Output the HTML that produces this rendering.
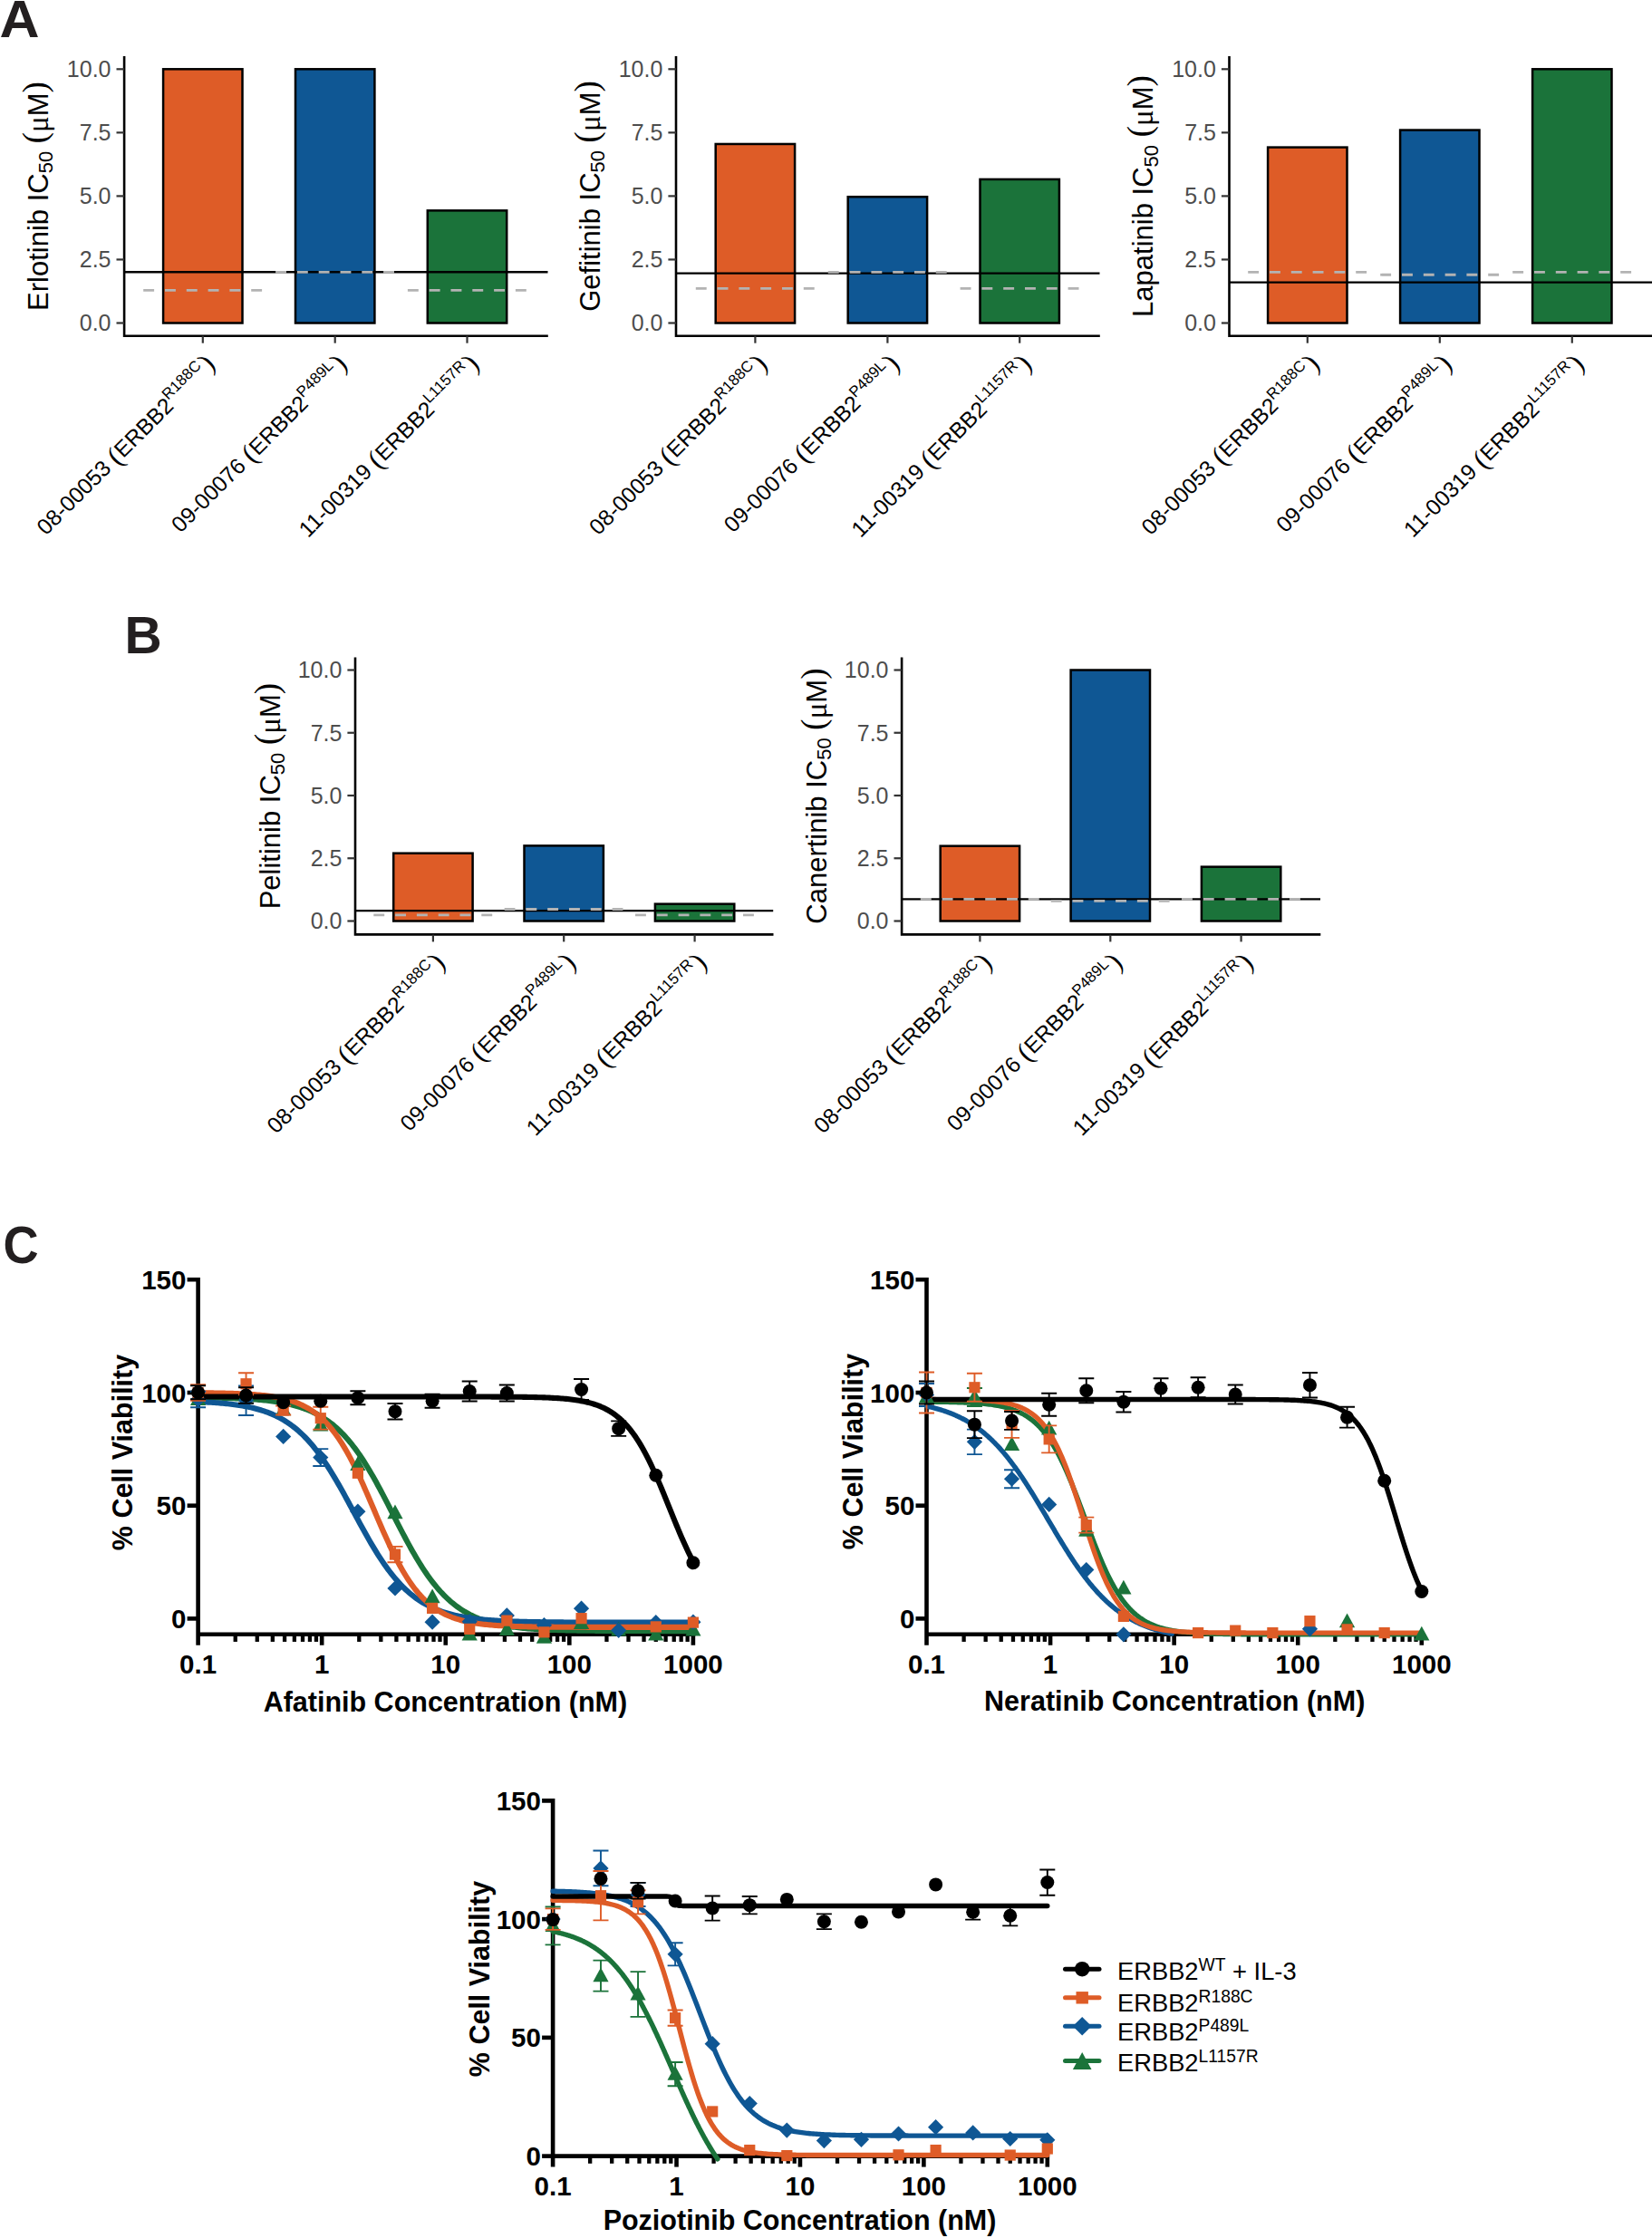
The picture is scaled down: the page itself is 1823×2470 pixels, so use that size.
<!DOCTYPE html>
<html lang="en"><head><meta charset="utf-8"><title>ERBB2 mutant inhibitor sensitivity</title>
<style>html,body{margin:0;padding:0;background:#fff}svg{display:block}text{font-family:"Liberation Sans", Arial, Helvetica, sans-serif}</style>
</head><body>
<svg width="1823" height="2470" viewBox="0 0 1823 2470">
<rect width="1823" height="2470" fill="#fff"/>
<text transform="translate(-0.5 41) scale(1.07 1)" font-size="57" font-weight="bold" fill="#231f20">A</text>
<text transform="translate(137.5 721.3) scale(1.0 1)" font-size="57" font-weight="bold" fill="#231f20">B</text>
<text transform="translate(3.5 1394) scale(0.95 1)" font-size="57" font-weight="bold" fill="#231f20">C</text>
<rect x="180.1" y="76.3" width="87.4" height="280.2" fill="#de5c27" stroke="#000" stroke-width="2.5"/>
<rect x="326" y="76.3" width="87.4" height="280.2" fill="#0f5794" stroke="#000" stroke-width="2.5"/>
<rect x="471.8" y="232.37" width="87.4" height="124.13" fill="#1b733a" stroke="#000" stroke-width="2.5"/>
<line x1="137.1" y1="300.18" x2="604.5" y2="300.18" stroke="#000" stroke-width="2.4"/>
<line x1="158.2" y1="320.35" x2="289.4" y2="320.35" stroke="#b3b3b3" stroke-width="2.8" stroke-dasharray="11.9 11.9"/>
<line x1="304.1" y1="300.46" x2="435.3" y2="300.46" stroke="#b3b3b3" stroke-width="2.8" stroke-dasharray="11.9 11.9"/>
<line x1="449.9" y1="320.35" x2="581.1" y2="320.35" stroke="#b3b3b3" stroke-width="2.8" stroke-dasharray="11.9 11.9"/>
<path d="M137.1 63.3 V370.7 H603.5" fill="none" stroke="#000" stroke-width="2.6" stroke-linecap="square"/>
<line x1="128.5" y1="356.5" x2="137.1" y2="356.5" stroke="#333" stroke-width="2.2"/>
<text x="122.5" y="365.4" font-size="25" fill="#4d4d4d" text-anchor="end">0.0</text>
<line x1="128.5" y1="286.45" x2="137.1" y2="286.45" stroke="#333" stroke-width="2.2"/>
<text x="122.5" y="295.35" font-size="25" fill="#4d4d4d" text-anchor="end">2.5</text>
<line x1="128.5" y1="216.4" x2="137.1" y2="216.4" stroke="#333" stroke-width="2.2"/>
<text x="122.5" y="225.3" font-size="25" fill="#4d4d4d" text-anchor="end">5.0</text>
<line x1="128.5" y1="146.35" x2="137.1" y2="146.35" stroke="#333" stroke-width="2.2"/>
<text x="122.5" y="155.25" font-size="25" fill="#4d4d4d" text-anchor="end">7.5</text>
<line x1="128.5" y1="76.3" x2="137.1" y2="76.3" stroke="#333" stroke-width="2.2"/>
<text x="122.5" y="85.2" font-size="25" fill="#4d4d4d" text-anchor="end">10.0</text>
<line x1="223.8" y1="370.7" x2="223.8" y2="378.7" stroke="#333" stroke-width="2.2"/>
<text transform="translate(238.7 403.7) rotate(-45)" font-size="24.5" fill="#000" text-anchor="end">08-00053 <tspan font-family='"Liberation Serif", "DejaVu Serif", serif' font-size="31" dy="2">(</tspan><tspan dy="-2">ERBB2</tspan><tspan font-size="17" dy="-10.5">R188C</tspan><tspan font-family='"Liberation Serif", "DejaVu Serif", serif' font-size="31" dy="10.5" dx="1.5">)</tspan></text>
<line x1="369.7" y1="370.7" x2="369.7" y2="378.7" stroke="#333" stroke-width="2.2"/>
<text transform="translate(384.6 403.7) rotate(-45)" font-size="24.5" fill="#000" text-anchor="end">09-00076 <tspan font-family='"Liberation Serif", "DejaVu Serif", serif' font-size="31" dy="2">(</tspan><tspan dy="-2">ERBB2</tspan><tspan font-size="17" dy="-10.5">P489L</tspan><tspan font-family='"Liberation Serif", "DejaVu Serif", serif' font-size="31" dy="10.5" dx="1.5">)</tspan></text>
<line x1="515.5" y1="370.7" x2="515.5" y2="378.7" stroke="#333" stroke-width="2.2"/>
<text transform="translate(530.4 403.7) rotate(-45)" font-size="24.5" fill="#000" text-anchor="end">11-00319 <tspan font-family='"Liberation Serif", "DejaVu Serif", serif' font-size="31" dy="2">(</tspan><tspan dy="-2">ERBB2</tspan><tspan font-size="17" dy="-10.5">L1157R</tspan><tspan font-family='"Liberation Serif", "DejaVu Serif", serif' font-size="31" dy="10.5" dx="1.5">)</tspan></text>
<text transform="translate(52.5 216.5) rotate(-90)" font-size="31" fill="#000" text-anchor="middle">Erlotinib IC<tspan font-size="22" dy="5.5">50</tspan><tspan dy="-5.5"> </tspan><tspan font-family='"Liberation Serif", "DejaVu Serif", serif' font-size="37" dy="-2">(</tspan><tspan font-family='"Liberation Serif", "DejaVu Serif", serif' font-size="33" dy="2">μ</tspan>M<tspan font-family='"Liberation Serif", "DejaVu Serif", serif' font-size="37" dy="-2">)</tspan></text>
<rect x="789.7" y="158.96" width="87.4" height="197.54" fill="#de5c27" stroke="#000" stroke-width="2.5"/>
<rect x="935.7" y="217.24" width="87.4" height="139.26" fill="#0f5794" stroke="#000" stroke-width="2.5"/>
<rect x="1081.5" y="197.91" width="87.4" height="158.59" fill="#1b733a" stroke="#000" stroke-width="2.5"/>
<line x1="746" y1="301.58" x2="1213.5" y2="301.58" stroke="#000" stroke-width="2.4"/>
<line x1="767.8" y1="318.39" x2="899" y2="318.39" stroke="#b3b3b3" stroke-width="2.8" stroke-dasharray="11.9 11.9"/>
<line x1="913.8" y1="300.46" x2="1045" y2="300.46" stroke="#b3b3b3" stroke-width="2.8" stroke-dasharray="11.9 11.9"/>
<line x1="1059.6" y1="318.39" x2="1190.8" y2="318.39" stroke="#b3b3b3" stroke-width="2.8" stroke-dasharray="11.9 11.9"/>
<path d="M746 63.3 V370.7 H1212.5" fill="none" stroke="#000" stroke-width="2.6" stroke-linecap="square"/>
<line x1="737.4" y1="356.5" x2="746" y2="356.5" stroke="#333" stroke-width="2.2"/>
<text x="731.4" y="365.4" font-size="25" fill="#4d4d4d" text-anchor="end">0.0</text>
<line x1="737.4" y1="286.45" x2="746" y2="286.45" stroke="#333" stroke-width="2.2"/>
<text x="731.4" y="295.35" font-size="25" fill="#4d4d4d" text-anchor="end">2.5</text>
<line x1="737.4" y1="216.4" x2="746" y2="216.4" stroke="#333" stroke-width="2.2"/>
<text x="731.4" y="225.3" font-size="25" fill="#4d4d4d" text-anchor="end">5.0</text>
<line x1="737.4" y1="146.35" x2="746" y2="146.35" stroke="#333" stroke-width="2.2"/>
<text x="731.4" y="155.25" font-size="25" fill="#4d4d4d" text-anchor="end">7.5</text>
<line x1="737.4" y1="76.3" x2="746" y2="76.3" stroke="#333" stroke-width="2.2"/>
<text x="731.4" y="85.2" font-size="25" fill="#4d4d4d" text-anchor="end">10.0</text>
<line x1="833.4" y1="370.7" x2="833.4" y2="378.7" stroke="#333" stroke-width="2.2"/>
<text transform="translate(848.3 403.7) rotate(-45)" font-size="24.5" fill="#000" text-anchor="end">08-00053 <tspan font-family='"Liberation Serif", "DejaVu Serif", serif' font-size="31" dy="2">(</tspan><tspan dy="-2">ERBB2</tspan><tspan font-size="17" dy="-10.5">R188C</tspan><tspan font-family='"Liberation Serif", "DejaVu Serif", serif' font-size="31" dy="10.5" dx="1.5">)</tspan></text>
<line x1="979.4" y1="370.7" x2="979.4" y2="378.7" stroke="#333" stroke-width="2.2"/>
<text transform="translate(994.3 403.7) rotate(-45)" font-size="24.5" fill="#000" text-anchor="end">09-00076 <tspan font-family='"Liberation Serif", "DejaVu Serif", serif' font-size="31" dy="2">(</tspan><tspan dy="-2">ERBB2</tspan><tspan font-size="17" dy="-10.5">P489L</tspan><tspan font-family='"Liberation Serif", "DejaVu Serif", serif' font-size="31" dy="10.5" dx="1.5">)</tspan></text>
<line x1="1125.2" y1="370.7" x2="1125.2" y2="378.7" stroke="#333" stroke-width="2.2"/>
<text transform="translate(1140.1 403.7) rotate(-45)" font-size="24.5" fill="#000" text-anchor="end">11-00319 <tspan font-family='"Liberation Serif", "DejaVu Serif", serif' font-size="31" dy="2">(</tspan><tspan dy="-2">ERBB2</tspan><tspan font-size="17" dy="-10.5">L1157R</tspan><tspan font-family='"Liberation Serif", "DejaVu Serif", serif' font-size="31" dy="10.5" dx="1.5">)</tspan></text>
<text transform="translate(661.5 216.5) rotate(-90)" font-size="31" fill="#000" text-anchor="middle">Gefitinib IC<tspan font-size="22" dy="5.5">50</tspan><tspan dy="-5.5"> </tspan><tspan font-family='"Liberation Serif", "DejaVu Serif", serif' font-size="37" dy="-2">(</tspan><tspan font-family='"Liberation Serif", "DejaVu Serif", serif' font-size="33" dy="2">μ</tspan>M<tspan font-family='"Liberation Serif", "DejaVu Serif", serif' font-size="37" dy="-2">)</tspan></text>
<rect x="1399.1" y="162.6" width="87.4" height="193.9" fill="#de5c27" stroke="#000" stroke-width="2.5"/>
<rect x="1545.1" y="143.55" width="87.4" height="212.95" fill="#0f5794" stroke="#000" stroke-width="2.5"/>
<rect x="1691.1" y="76.3" width="87.4" height="280.2" fill="#1b733a" stroke="#000" stroke-width="2.5"/>
<line x1="1356.5" y1="311.67" x2="1824" y2="311.67" stroke="#000" stroke-width="2.4"/>
<line x1="1377.2" y1="300.46" x2="1508.4" y2="300.46" stroke="#b3b3b3" stroke-width="2.8" stroke-dasharray="11.9 11.9"/>
<line x1="1523.2" y1="303.26" x2="1654.4" y2="303.26" stroke="#b3b3b3" stroke-width="2.8" stroke-dasharray="11.9 11.9"/>
<line x1="1669.2" y1="300.46" x2="1800.4" y2="300.46" stroke="#b3b3b3" stroke-width="2.8" stroke-dasharray="11.9 11.9"/>
<path d="M1356.5 63.3 V370.7 H1823" fill="none" stroke="#000" stroke-width="2.6" stroke-linecap="square"/>
<line x1="1347.9" y1="356.5" x2="1356.5" y2="356.5" stroke="#333" stroke-width="2.2"/>
<text x="1341.9" y="365.4" font-size="25" fill="#4d4d4d" text-anchor="end">0.0</text>
<line x1="1347.9" y1="286.45" x2="1356.5" y2="286.45" stroke="#333" stroke-width="2.2"/>
<text x="1341.9" y="295.35" font-size="25" fill="#4d4d4d" text-anchor="end">2.5</text>
<line x1="1347.9" y1="216.4" x2="1356.5" y2="216.4" stroke="#333" stroke-width="2.2"/>
<text x="1341.9" y="225.3" font-size="25" fill="#4d4d4d" text-anchor="end">5.0</text>
<line x1="1347.9" y1="146.35" x2="1356.5" y2="146.35" stroke="#333" stroke-width="2.2"/>
<text x="1341.9" y="155.25" font-size="25" fill="#4d4d4d" text-anchor="end">7.5</text>
<line x1="1347.9" y1="76.3" x2="1356.5" y2="76.3" stroke="#333" stroke-width="2.2"/>
<text x="1341.9" y="85.2" font-size="25" fill="#4d4d4d" text-anchor="end">10.0</text>
<line x1="1442.8" y1="370.7" x2="1442.8" y2="378.7" stroke="#333" stroke-width="2.2"/>
<text transform="translate(1457.7 403.7) rotate(-45)" font-size="24.5" fill="#000" text-anchor="end">08-00053 <tspan font-family='"Liberation Serif", "DejaVu Serif", serif' font-size="31" dy="2">(</tspan><tspan dy="-2">ERBB2</tspan><tspan font-size="17" dy="-10.5">R188C</tspan><tspan font-family='"Liberation Serif", "DejaVu Serif", serif' font-size="31" dy="10.5" dx="1.5">)</tspan></text>
<line x1="1588.8" y1="370.7" x2="1588.8" y2="378.7" stroke="#333" stroke-width="2.2"/>
<text transform="translate(1603.7 403.7) rotate(-45)" font-size="24.5" fill="#000" text-anchor="end">09-00076 <tspan font-family='"Liberation Serif", "DejaVu Serif", serif' font-size="31" dy="2">(</tspan><tspan dy="-2">ERBB2</tspan><tspan font-size="17" dy="-10.5">P489L</tspan><tspan font-family='"Liberation Serif", "DejaVu Serif", serif' font-size="31" dy="10.5" dx="1.5">)</tspan></text>
<line x1="1734.8" y1="370.7" x2="1734.8" y2="378.7" stroke="#333" stroke-width="2.2"/>
<text transform="translate(1749.7 403.7) rotate(-45)" font-size="24.5" fill="#000" text-anchor="end">11-00319 <tspan font-family='"Liberation Serif", "DejaVu Serif", serif' font-size="31" dy="2">(</tspan><tspan dy="-2">ERBB2</tspan><tspan font-size="17" dy="-10.5">L1157R</tspan><tspan font-family='"Liberation Serif", "DejaVu Serif", serif' font-size="31" dy="10.5" dx="1.5">)</tspan></text>
<text transform="translate(1272 216.5) rotate(-90)" font-size="31" fill="#000" text-anchor="middle">Lapatinib IC<tspan font-size="22" dy="5.5">50</tspan><tspan dy="-5.5"> </tspan><tspan font-family='"Liberation Serif", "DejaVu Serif", serif' font-size="37" dy="-2">(</tspan><tspan font-family='"Liberation Serif", "DejaVu Serif", serif' font-size="33" dy="2">μ</tspan>M<tspan font-family='"Liberation Serif", "DejaVu Serif", serif' font-size="37" dy="-2">)</tspan></text>
<rect x="434.2" y="941.71" width="87.4" height="74.79" fill="#de5c27" stroke="#000" stroke-width="2.5"/>
<rect x="578.5" y="933.4" width="87.4" height="83.1" fill="#0f5794" stroke="#000" stroke-width="2.5"/>
<rect x="722.9" y="997.66" width="87.4" height="18.84" fill="#1b733a" stroke="#000" stroke-width="2.5"/>
<line x1="392" y1="1005.14" x2="853.2" y2="1005.14" stroke="#000" stroke-width="2.4"/>
<line x1="412.3" y1="1009.85" x2="543.5" y2="1009.85" stroke="#b3b3b3" stroke-width="2.8" stroke-dasharray="11.9 11.9"/>
<line x1="556.6" y1="1003.48" x2="687.8" y2="1003.48" stroke="#b3b3b3" stroke-width="2.8" stroke-dasharray="11.9 11.9"/>
<line x1="701" y1="1009.85" x2="832.2" y2="1009.85" stroke="#b3b3b3" stroke-width="2.8" stroke-dasharray="11.9 11.9"/>
<path d="M392 726.8 V1031.4 H852.2" fill="none" stroke="#000" stroke-width="2.6" stroke-linecap="square"/>
<line x1="383.4" y1="1016.5" x2="392" y2="1016.5" stroke="#333" stroke-width="2.2"/>
<text x="377.4" y="1025.4" font-size="25" fill="#4d4d4d" text-anchor="end">0.0</text>
<line x1="383.4" y1="947.25" x2="392" y2="947.25" stroke="#333" stroke-width="2.2"/>
<text x="377.4" y="956.15" font-size="25" fill="#4d4d4d" text-anchor="end">2.5</text>
<line x1="383.4" y1="878" x2="392" y2="878" stroke="#333" stroke-width="2.2"/>
<text x="377.4" y="886.9" font-size="25" fill="#4d4d4d" text-anchor="end">5.0</text>
<line x1="383.4" y1="808.75" x2="392" y2="808.75" stroke="#333" stroke-width="2.2"/>
<text x="377.4" y="817.65" font-size="25" fill="#4d4d4d" text-anchor="end">7.5</text>
<line x1="383.4" y1="739.5" x2="392" y2="739.5" stroke="#333" stroke-width="2.2"/>
<text x="377.4" y="748.4" font-size="25" fill="#4d4d4d" text-anchor="end">10.0</text>
<line x1="477.9" y1="1031.4" x2="477.9" y2="1039.4" stroke="#333" stroke-width="2.2"/>
<text transform="translate(492.8 1064.4) rotate(-45)" font-size="24.5" fill="#000" text-anchor="end">08-00053 <tspan font-family='"Liberation Serif", "DejaVu Serif", serif' font-size="31" dy="2">(</tspan><tspan dy="-2">ERBB2</tspan><tspan font-size="17" dy="-10.5">R188C</tspan><tspan font-family='"Liberation Serif", "DejaVu Serif", serif' font-size="31" dy="10.5" dx="1.5">)</tspan></text>
<line x1="622.2" y1="1031.4" x2="622.2" y2="1039.4" stroke="#333" stroke-width="2.2"/>
<text transform="translate(637.1 1064.4) rotate(-45)" font-size="24.5" fill="#000" text-anchor="end">09-00076 <tspan font-family='"Liberation Serif", "DejaVu Serif", serif' font-size="31" dy="2">(</tspan><tspan dy="-2">ERBB2</tspan><tspan font-size="17" dy="-10.5">P489L</tspan><tspan font-family='"Liberation Serif", "DejaVu Serif", serif' font-size="31" dy="10.5" dx="1.5">)</tspan></text>
<line x1="766.6" y1="1031.4" x2="766.6" y2="1039.4" stroke="#333" stroke-width="2.2"/>
<text transform="translate(781.5 1064.4) rotate(-45)" font-size="24.5" fill="#000" text-anchor="end">11-00319 <tspan font-family='"Liberation Serif", "DejaVu Serif", serif' font-size="31" dy="2">(</tspan><tspan dy="-2">ERBB2</tspan><tspan font-size="17" dy="-10.5">L1157R</tspan><tspan font-family='"Liberation Serif", "DejaVu Serif", serif' font-size="31" dy="10.5" dx="1.5">)</tspan></text>
<text transform="translate(308.5 878.6) rotate(-90)" font-size="31" fill="#000" text-anchor="middle">Pelitinib IC<tspan font-size="22" dy="5.5">50</tspan><tspan dy="-5.5"> </tspan><tspan font-family='"Liberation Serif", "DejaVu Serif", serif' font-size="37" dy="-2">(</tspan><tspan font-family='"Liberation Serif", "DejaVu Serif", serif' font-size="33" dy="2">μ</tspan>M<tspan font-family='"Liberation Serif", "DejaVu Serif", serif' font-size="37" dy="-2">)</tspan></text>
<rect x="1037.7" y="933.68" width="87.4" height="82.82" fill="#de5c27" stroke="#000" stroke-width="2.5"/>
<rect x="1181.6" y="739.5" width="87.4" height="277" fill="#0f5794" stroke="#000" stroke-width="2.5"/>
<rect x="1325.9" y="956.67" width="87.4" height="59.83" fill="#1b733a" stroke="#000" stroke-width="2.5"/>
<line x1="995.1" y1="992.4" x2="1457" y2="992.4" stroke="#000" stroke-width="2.4"/>
<line x1="1015.8" y1="992.4" x2="1147" y2="992.4" stroke="#b3b3b3" stroke-width="2.8" stroke-dasharray="11.9 11.9"/>
<line x1="1159.7" y1="994.34" x2="1290.9" y2="994.34" stroke="#b3b3b3" stroke-width="2.8" stroke-dasharray="11.9 11.9"/>
<line x1="1304" y1="992.4" x2="1435.2" y2="992.4" stroke="#b3b3b3" stroke-width="2.8" stroke-dasharray="11.9 11.9"/>
<path d="M995.1 726.8 V1031.4 H1456" fill="none" stroke="#000" stroke-width="2.6" stroke-linecap="square"/>
<line x1="986.5" y1="1016.5" x2="995.1" y2="1016.5" stroke="#333" stroke-width="2.2"/>
<text x="980.5" y="1025.4" font-size="25" fill="#4d4d4d" text-anchor="end">0.0</text>
<line x1="986.5" y1="947.25" x2="995.1" y2="947.25" stroke="#333" stroke-width="2.2"/>
<text x="980.5" y="956.15" font-size="25" fill="#4d4d4d" text-anchor="end">2.5</text>
<line x1="986.5" y1="878" x2="995.1" y2="878" stroke="#333" stroke-width="2.2"/>
<text x="980.5" y="886.9" font-size="25" fill="#4d4d4d" text-anchor="end">5.0</text>
<line x1="986.5" y1="808.75" x2="995.1" y2="808.75" stroke="#333" stroke-width="2.2"/>
<text x="980.5" y="817.65" font-size="25" fill="#4d4d4d" text-anchor="end">7.5</text>
<line x1="986.5" y1="739.5" x2="995.1" y2="739.5" stroke="#333" stroke-width="2.2"/>
<text x="980.5" y="748.4" font-size="25" fill="#4d4d4d" text-anchor="end">10.0</text>
<line x1="1081.4" y1="1031.4" x2="1081.4" y2="1039.4" stroke="#333" stroke-width="2.2"/>
<text transform="translate(1096.3 1064.4) rotate(-45)" font-size="24.5" fill="#000" text-anchor="end">08-00053 <tspan font-family='"Liberation Serif", "DejaVu Serif", serif' font-size="31" dy="2">(</tspan><tspan dy="-2">ERBB2</tspan><tspan font-size="17" dy="-10.5">R188C</tspan><tspan font-family='"Liberation Serif", "DejaVu Serif", serif' font-size="31" dy="10.5" dx="1.5">)</tspan></text>
<line x1="1225.3" y1="1031.4" x2="1225.3" y2="1039.4" stroke="#333" stroke-width="2.2"/>
<text transform="translate(1240.2 1064.4) rotate(-45)" font-size="24.5" fill="#000" text-anchor="end">09-00076 <tspan font-family='"Liberation Serif", "DejaVu Serif", serif' font-size="31" dy="2">(</tspan><tspan dy="-2">ERBB2</tspan><tspan font-size="17" dy="-10.5">P489L</tspan><tspan font-family='"Liberation Serif", "DejaVu Serif", serif' font-size="31" dy="10.5" dx="1.5">)</tspan></text>
<line x1="1369.6" y1="1031.4" x2="1369.6" y2="1039.4" stroke="#333" stroke-width="2.2"/>
<text transform="translate(1384.5 1064.4) rotate(-45)" font-size="24.5" fill="#000" text-anchor="end">11-00319 <tspan font-family='"Liberation Serif", "DejaVu Serif", serif' font-size="31" dy="2">(</tspan><tspan dy="-2">ERBB2</tspan><tspan font-size="17" dy="-10.5">L1157R</tspan><tspan font-family='"Liberation Serif", "DejaVu Serif", serif' font-size="31" dy="10.5" dx="1.5">)</tspan></text>
<text transform="translate(911.5 878.6) rotate(-90)" font-size="31" fill="#000" text-anchor="middle">Canertinib IC<tspan font-size="22" dy="5.5">50</tspan><tspan dy="-5.5"> </tspan><tspan font-family='"Liberation Serif", "DejaVu Serif", serif' font-size="37" dy="-2">(</tspan><tspan font-family='"Liberation Serif", "DejaVu Serif", serif' font-size="33" dy="2">μ</tspan>M<tspan font-family='"Liberation Serif", "DejaVu Serif", serif' font-size="37" dy="-2">)</tspan></text>
<path d="M206.6 1412.3 H218.6 V1815.76" fill="none" stroke="#000" stroke-width="4.6"/>
<line x1="218.6" y1="1803.76" x2="767.2" y2="1803.76" stroke="#000" stroke-width="4.6"/>
<line x1="206.6" y1="1786.4" x2="218.6" y2="1786.4" stroke="#000" stroke-width="4.6"/>
<line x1="206.6" y1="1661.7" x2="218.6" y2="1661.7" stroke="#000" stroke-width="4.6"/>
<line x1="206.6" y1="1537" x2="218.6" y2="1537" stroke="#000" stroke-width="4.6"/>
<text x="205.4" y="1796.9" font-size="29.5" font-weight="bold" text-anchor="end">0</text>
<text x="205.4" y="1672.2" font-size="29.5" font-weight="bold" text-anchor="end">50</text>
<text x="205.4" y="1547.5" font-size="29.5" font-weight="bold" text-anchor="end">100</text>
<text x="205.4" y="1422.8" font-size="29.5" font-weight="bold" text-anchor="end">150</text>
<text x="218.6" y="1846.76" font-size="29.5" font-weight="bold" text-anchor="middle">0.1</text>
<line x1="259.71" y1="1803.76" x2="259.71" y2="1811.96" stroke="#000" stroke-width="4.3"/>
<line x1="283.76" y1="1803.76" x2="283.76" y2="1811.96" stroke="#000" stroke-width="4.3"/>
<line x1="300.83" y1="1803.76" x2="300.83" y2="1811.96" stroke="#000" stroke-width="4.3"/>
<line x1="314.06" y1="1803.76" x2="314.06" y2="1811.96" stroke="#000" stroke-width="4.3"/>
<line x1="324.88" y1="1803.76" x2="324.88" y2="1811.96" stroke="#000" stroke-width="4.3"/>
<line x1="334.02" y1="1803.76" x2="334.02" y2="1811.96" stroke="#000" stroke-width="4.3"/>
<line x1="341.94" y1="1803.76" x2="341.94" y2="1811.96" stroke="#000" stroke-width="4.3"/>
<line x1="348.93" y1="1803.76" x2="348.93" y2="1811.96" stroke="#000" stroke-width="4.3"/>
<line x1="355.17" y1="1803.76" x2="355.17" y2="1815.76" stroke="#000" stroke-width="4.6"/>
<text x="355.17" y="1846.76" font-size="29.5" font-weight="bold" text-anchor="middle">1</text>
<line x1="396.29" y1="1803.76" x2="396.29" y2="1811.96" stroke="#000" stroke-width="4.3"/>
<line x1="420.34" y1="1803.76" x2="420.34" y2="1811.96" stroke="#000" stroke-width="4.3"/>
<line x1="437.4" y1="1803.76" x2="437.4" y2="1811.96" stroke="#000" stroke-width="4.3"/>
<line x1="450.64" y1="1803.76" x2="450.64" y2="1811.96" stroke="#000" stroke-width="4.3"/>
<line x1="461.45" y1="1803.76" x2="461.45" y2="1811.96" stroke="#000" stroke-width="4.3"/>
<line x1="470.59" y1="1803.76" x2="470.59" y2="1811.96" stroke="#000" stroke-width="4.3"/>
<line x1="478.51" y1="1803.76" x2="478.51" y2="1811.96" stroke="#000" stroke-width="4.3"/>
<line x1="485.5" y1="1803.76" x2="485.5" y2="1811.96" stroke="#000" stroke-width="4.3"/>
<line x1="491.75" y1="1803.76" x2="491.75" y2="1815.76" stroke="#000" stroke-width="4.6"/>
<text x="491.75" y="1846.76" font-size="29.5" font-weight="bold" text-anchor="middle">10</text>
<line x1="532.86" y1="1803.76" x2="532.86" y2="1811.96" stroke="#000" stroke-width="4.3"/>
<line x1="556.91" y1="1803.76" x2="556.91" y2="1811.96" stroke="#000" stroke-width="4.3"/>
<line x1="573.98" y1="1803.76" x2="573.98" y2="1811.96" stroke="#000" stroke-width="4.3"/>
<line x1="587.21" y1="1803.76" x2="587.21" y2="1811.96" stroke="#000" stroke-width="4.3"/>
<line x1="598.03" y1="1803.76" x2="598.03" y2="1811.96" stroke="#000" stroke-width="4.3"/>
<line x1="607.17" y1="1803.76" x2="607.17" y2="1811.96" stroke="#000" stroke-width="4.3"/>
<line x1="615.09" y1="1803.76" x2="615.09" y2="1811.96" stroke="#000" stroke-width="4.3"/>
<line x1="622.08" y1="1803.76" x2="622.08" y2="1811.96" stroke="#000" stroke-width="4.3"/>
<line x1="628.32" y1="1803.76" x2="628.32" y2="1815.76" stroke="#000" stroke-width="4.6"/>
<text x="628.32" y="1846.76" font-size="29.5" font-weight="bold" text-anchor="middle">100</text>
<line x1="669.44" y1="1803.76" x2="669.44" y2="1811.96" stroke="#000" stroke-width="4.3"/>
<line x1="693.49" y1="1803.76" x2="693.49" y2="1811.96" stroke="#000" stroke-width="4.3"/>
<line x1="710.55" y1="1803.76" x2="710.55" y2="1811.96" stroke="#000" stroke-width="4.3"/>
<line x1="723.79" y1="1803.76" x2="723.79" y2="1811.96" stroke="#000" stroke-width="4.3"/>
<line x1="734.6" y1="1803.76" x2="734.6" y2="1811.96" stroke="#000" stroke-width="4.3"/>
<line x1="743.74" y1="1803.76" x2="743.74" y2="1811.96" stroke="#000" stroke-width="4.3"/>
<line x1="751.66" y1="1803.76" x2="751.66" y2="1811.96" stroke="#000" stroke-width="4.3"/>
<line x1="758.65" y1="1803.76" x2="758.65" y2="1811.96" stroke="#000" stroke-width="4.3"/>
<line x1="764.9" y1="1803.76" x2="764.9" y2="1815.76" stroke="#000" stroke-width="4.6"/>
<text x="764.9" y="1846.76" font-size="29.5" font-weight="bold" text-anchor="middle">1000</text>
<text x="491.4" y="1888.5" font-size="30.5" font-weight="bold" text-anchor="middle">Afatinib Concentration (nM)</text>
<text transform="translate(145.5 1603) rotate(-90)" font-size="30.5" font-weight="bold" text-anchor="middle">&#37; Cell Viability</text>
<path d="M218.6 1542.37 L220.42 1542.39 L222.24 1542.41 L224.06 1542.43 L225.88 1542.46 L227.7 1542.49 L229.53 1542.51 L231.35 1542.54 L233.17 1542.58 L234.99 1542.61 L236.81 1542.64 L238.63 1542.68 L240.45 1542.72 L242.27 1542.76 L244.09 1542.81 L245.91 1542.85 L247.74 1542.9 L249.56 1542.95 L251.38 1543.01 L253.2 1543.07 L255.02 1543.13 L256.84 1543.19 L258.66 1543.26 L260.48 1543.33 L262.3 1543.41 L264.12 1543.49 L265.95 1543.57 L267.77 1543.66 L269.59 1543.76 L271.41 1543.86 L273.23 1543.96 L275.05 1544.07 L276.87 1544.19 L278.69 1544.31 L280.51 1544.45 L282.34 1544.58 L284.16 1544.73 L285.98 1544.88 L287.8 1545.05 L289.62 1545.22 L291.44 1545.4 L293.26 1545.59 L295.08 1545.79 L296.9 1546 L298.72 1546.23 L300.54 1546.46 L302.37 1546.71 L304.19 1546.98 L306.01 1547.26 L307.83 1547.55 L309.65 1547.86 L311.47 1548.18 L313.29 1548.53 L315.11 1548.89 L316.93 1549.27 L318.75 1549.67 L320.58 1550.09 L322.4 1550.54 L324.22 1551.01 L326.04 1551.5 L327.86 1552.02 L329.68 1552.57 L331.5 1553.14 L333.32 1553.75 L335.14 1554.38 L336.96 1555.05 L338.79 1555.75 L340.61 1556.49 L342.43 1557.27 L344.25 1558.08 L346.07 1558.93 L347.89 1559.83 L349.71 1560.77 L351.53 1561.76 L353.35 1562.79 L355.17 1563.87 L357 1565 L358.82 1566.19 L360.64 1567.43 L362.46 1568.72 L364.28 1570.08 L366.1 1571.49 L367.92 1572.97 L369.74 1574.5 L371.56 1576.11 L373.38 1577.78 L375.21 1579.52 L377.03 1581.32 L378.85 1583.2 L380.67 1585.15 L382.49 1587.17 L384.31 1589.27 L386.13 1591.44 L387.95 1593.69 L389.77 1596.01 L391.59 1598.41 L393.42 1600.89 L395.24 1603.44 L397.06 1606.06 L398.88 1608.76 L400.7 1611.53 L402.52 1614.37 L404.34 1617.29 L406.16 1620.27 L407.98 1623.31 L409.8 1626.42 L411.63 1629.59 L413.45 1632.82 L415.27 1636.1 L417.09 1639.43 L418.91 1642.8 L420.73 1646.22 L422.55 1649.67 L424.37 1653.15 L426.19 1656.66 L428.01 1660.19 L429.84 1663.74 L431.66 1667.3 L433.48 1670.87 L435.3 1674.43 L437.12 1677.99 L438.94 1681.54 L440.76 1685.07 L442.58 1688.59 L444.4 1692.07 L446.23 1695.53 L448.05 1698.95 L449.87 1702.33 L451.69 1705.66 L453.51 1708.95 L455.33 1712.18 L457.15 1715.35 L458.97 1718.47 L460.79 1721.52 L462.61 1724.51 L464.43 1727.43 L466.26 1730.28 L468.08 1733.06 L469.9 1735.77 L471.72 1738.4 L473.54 1740.96 L475.36 1743.44 L477.18 1745.84 L479 1748.18 L480.82 1750.43 L482.64 1752.61 L484.47 1754.71 L486.29 1756.75 L488.11 1758.7 L489.93 1760.59 L491.75 1762.4 L493.57 1764.15 L495.39 1765.83 L497.21 1767.44 L499.03 1768.98 L500.86 1770.46 L502.68 1771.88 L504.5 1773.24 L506.32 1774.54 L508.14 1775.79 L509.96 1776.98 L511.78 1778.12 L513.6 1779.2 L515.42 1780.24 L517.24 1781.23 L519.06 1782.18 L520.89 1783.08 L522.71 1783.94 L524.53 1784.76 L526.35 1785.53 L528.17 1786.28 L529.99 1786.98 L531.81 1787.65 L533.63 1788.29 L535.45 1788.9 L537.27 1789.48 L539.1 1790.03 L540.92 1790.55 L542.74 1791.05 L544.56 1791.52 L546.38 1791.97 L548.2 1792.39 L550.02 1792.8 L551.84 1793.18 L553.66 1793.54 L555.49 1793.89 L557.31 1794.21 L559.13 1794.52 L560.95 1794.82 L562.77 1795.1 L564.59 1795.36 L566.41 1795.61 L568.23 1795.85 L570.05 1796.08 L571.87 1796.29 L573.69 1796.49 L575.52 1796.69 L577.34 1796.87 L579.16 1797.04 L580.98 1797.21 L582.8 1797.36 L584.62 1797.51 L586.44 1797.65 L588.26 1797.78 L590.08 1797.9 L591.9 1798.02 L593.73 1798.13 L595.55 1798.24 L597.37 1798.34 L599.19 1798.43 L601.01 1798.52 L602.83 1798.61 L604.65 1798.69 L606.47 1798.77 L608.29 1798.84 L610.12 1798.91 L611.94 1798.97 L613.76 1799.03 L615.58 1799.09 L617.4 1799.15 L619.22 1799.2 L621.04 1799.25 L622.86 1799.29 L624.68 1799.34 L626.5 1799.38 L628.32 1799.42 L630.15 1799.46 L631.97 1799.49 L633.79 1799.53 L635.61 1799.56 L637.43 1799.59 L639.25 1799.62 L641.07 1799.64 L642.89 1799.67 L644.71 1799.69 L646.53 1799.71 L648.36 1799.74 L650.18 1799.76 L652 1799.78 L653.82 1799.79 L655.64 1799.81 L657.46 1799.83 L659.28 1799.84 L661.1 1799.86 L662.92 1799.87 L664.75 1799.89 L666.57 1799.9 L668.39 1799.91 L670.21 1799.92 L672.03 1799.93 L673.85 1799.94 L675.67 1799.95 L677.49 1799.96 L679.31 1799.97 L681.13 1799.98 L682.95 1799.98 L684.78 1799.99 L686.6 1800 L688.42 1800 L690.24 1800.01 L692.06 1800.02 L693.88 1800.02 L695.7 1800.03 L697.52 1800.03 L699.34 1800.04 L701.16 1800.04 L702.99 1800.04 L704.81 1800.05 L706.63 1800.05 L708.45 1800.06 L710.27 1800.06 L712.09 1800.06 L713.91 1800.06 L715.73 1800.07 L717.55 1800.07 L719.37 1800.07 L721.2 1800.08 L723.02 1800.08 L724.84 1800.08 L726.66 1800.08 L728.48 1800.08 L730.3 1800.09 L732.12 1800.09 L733.94 1800.09 L735.76 1800.09 L737.58 1800.09 L739.41 1800.09 L741.23 1800.09 L743.05 1800.1 L744.87 1800.1 L746.69 1800.1 L748.51 1800.1 L750.33 1800.1 L752.15 1800.1 L753.97 1800.1 L755.79 1800.1 L757.62 1800.1 L759.44 1800.1 L761.26 1800.1 L763.08 1800.11 L764.9 1800.11" fill="none" stroke="#1b733a" stroke-width="6.1" stroke-linejoin="round" stroke-linecap="round"/>
<path d="M218.6 1547.07 L220.42 1547.14 L222.24 1547.22 L224.06 1547.31 L225.88 1547.4 L227.7 1547.49 L229.53 1547.59 L231.35 1547.7 L233.17 1547.81 L234.99 1547.92 L236.81 1548.05 L238.63 1548.18 L240.45 1548.32 L242.27 1548.46 L244.09 1548.62 L245.91 1548.78 L247.74 1548.95 L249.56 1549.13 L251.38 1549.32 L253.2 1549.52 L255.02 1549.73 L256.84 1549.96 L258.66 1550.19 L260.48 1550.44 L262.3 1550.7 L264.12 1550.98 L265.95 1551.27 L267.77 1551.58 L269.59 1551.9 L271.41 1552.24 L273.23 1552.6 L275.05 1552.98 L276.87 1553.38 L278.69 1553.8 L280.51 1554.24 L282.34 1554.71 L284.16 1555.2 L285.98 1555.72 L287.8 1556.26 L289.62 1556.83 L291.44 1557.43 L293.26 1558.06 L295.08 1558.73 L296.9 1559.42 L298.72 1560.16 L300.54 1560.92 L302.37 1561.73 L304.19 1562.58 L306.01 1563.47 L307.83 1564.4 L309.65 1565.37 L311.47 1566.39 L313.29 1567.46 L315.11 1568.58 L316.93 1569.75 L318.75 1570.98 L320.58 1572.26 L322.4 1573.59 L324.22 1574.99 L326.04 1576.44 L327.86 1577.96 L329.68 1579.54 L331.5 1581.18 L333.32 1582.89 L335.14 1584.66 L336.96 1586.51 L338.79 1588.42 L340.61 1590.4 L342.43 1592.46 L344.25 1594.58 L346.07 1596.78 L347.89 1599.05 L349.71 1601.39 L351.53 1603.8 L353.35 1606.29 L355.17 1608.84 L357 1611.46 L358.82 1614.15 L360.64 1616.91 L362.46 1619.73 L364.28 1622.62 L366.1 1625.56 L367.92 1628.57 L369.74 1631.62 L371.56 1634.73 L373.38 1637.88 L375.21 1641.08 L377.03 1644.32 L378.85 1647.59 L380.67 1650.89 L382.49 1654.22 L384.31 1657.57 L386.13 1660.93 L387.95 1664.31 L389.77 1667.69 L391.59 1671.08 L393.42 1674.45 L395.24 1677.82 L397.06 1681.18 L398.88 1684.51 L400.7 1687.82 L402.52 1691.1 L404.34 1694.35 L406.16 1697.56 L407.98 1700.73 L409.8 1703.85 L411.63 1706.92 L413.45 1709.94 L415.27 1712.9 L417.09 1715.8 L418.91 1718.64 L420.73 1721.42 L422.55 1724.13 L424.37 1726.77 L426.19 1729.35 L428.01 1731.85 L429.84 1734.29 L431.66 1736.65 L433.48 1738.94 L435.3 1741.15 L437.12 1743.3 L438.94 1745.38 L440.76 1747.38 L442.58 1749.31 L444.4 1751.18 L446.23 1752.97 L448.05 1754.7 L449.87 1756.36 L451.69 1757.96 L453.51 1759.49 L455.33 1760.96 L457.15 1762.38 L458.97 1763.73 L460.79 1765.02 L462.61 1766.26 L464.43 1767.45 L466.26 1768.58 L468.08 1769.67 L469.9 1770.7 L471.72 1771.69 L473.54 1772.64 L475.36 1773.54 L477.18 1774.4 L479 1775.21 L480.82 1775.99 L482.64 1776.74 L484.47 1777.44 L486.29 1778.12 L488.11 1778.76 L489.93 1779.37 L491.75 1779.95 L493.57 1780.5 L495.39 1781.02 L497.21 1781.52 L499.03 1781.99 L500.86 1782.44 L502.68 1782.87 L504.5 1783.27 L506.32 1783.66 L508.14 1784.02 L509.96 1784.37 L511.78 1784.7 L513.6 1785.01 L515.42 1785.31 L517.24 1785.59 L519.06 1785.85 L520.89 1786.11 L522.71 1786.35 L524.53 1786.57 L526.35 1786.79 L528.17 1786.99 L529.99 1787.19 L531.81 1787.37 L533.63 1787.54 L535.45 1787.71 L537.27 1787.86 L539.1 1788.01 L540.92 1788.15 L542.74 1788.28 L544.56 1788.41 L546.38 1788.53 L548.2 1788.64 L550.02 1788.75 L551.84 1788.85 L553.66 1788.94 L555.49 1789.03 L557.31 1789.12 L559.13 1789.2 L560.95 1789.28 L562.77 1789.35 L564.59 1789.42 L566.41 1789.49 L568.23 1789.55 L570.05 1789.61 L571.87 1789.66 L573.69 1789.71 L575.52 1789.76 L577.34 1789.81 L579.16 1789.85 L580.98 1789.9 L582.8 1789.94 L584.62 1789.97 L586.44 1790.01 L588.26 1790.04 L590.08 1790.08 L591.9 1790.11 L593.73 1790.13 L595.55 1790.16 L597.37 1790.19 L599.19 1790.21 L601.01 1790.23 L602.83 1790.26 L604.65 1790.28 L606.47 1790.3 L608.29 1790.31 L610.12 1790.33 L611.94 1790.35 L613.76 1790.36 L615.58 1790.38 L617.4 1790.39 L619.22 1790.41 L621.04 1790.42 L622.86 1790.43 L624.68 1790.44 L626.5 1790.45 L628.32 1790.46 L630.15 1790.47 L631.97 1790.48 L633.79 1790.49 L635.61 1790.5 L637.43 1790.51 L639.25 1790.51 L641.07 1790.52 L642.89 1790.53 L644.71 1790.53 L646.53 1790.54 L648.36 1790.54 L650.18 1790.55 L652 1790.55 L653.82 1790.56 L655.64 1790.56 L657.46 1790.57 L659.28 1790.57 L661.1 1790.57 L662.92 1790.58 L664.75 1790.58 L666.57 1790.58 L668.39 1790.59 L670.21 1790.59 L672.03 1790.59 L673.85 1790.6 L675.67 1790.6 L677.49 1790.6 L679.31 1790.6 L681.13 1790.6 L682.95 1790.61 L684.78 1790.61 L686.6 1790.61 L688.42 1790.61 L690.24 1790.61 L692.06 1790.61 L693.88 1790.62 L695.7 1790.62 L697.52 1790.62 L699.34 1790.62 L701.16 1790.62 L702.99 1790.62 L704.81 1790.62 L706.63 1790.62 L708.45 1790.62 L710.27 1790.63 L712.09 1790.63 L713.91 1790.63 L715.73 1790.63 L717.55 1790.63 L719.37 1790.63 L721.2 1790.63 L723.02 1790.63 L724.84 1790.63 L726.66 1790.63 L728.48 1790.63 L730.3 1790.63 L732.12 1790.63 L733.94 1790.63 L735.76 1790.63 L737.58 1790.63 L739.41 1790.63 L741.23 1790.63 L743.05 1790.63 L744.87 1790.63 L746.69 1790.63 L748.51 1790.64 L750.33 1790.64 L752.15 1790.64 L753.97 1790.64 L755.79 1790.64 L757.62 1790.64 L759.44 1790.64 L761.26 1790.64 L763.08 1790.64 L764.9 1790.64" fill="none" stroke="#0f5794" stroke-width="6.1" stroke-linejoin="round" stroke-linecap="round"/>
<path d="M218.6 1537.23 L220.42 1537.24 L222.24 1537.26 L224.06 1537.28 L225.88 1537.3 L227.7 1537.32 L229.53 1537.34 L231.35 1537.36 L233.17 1537.38 L234.99 1537.41 L236.81 1537.44 L238.63 1537.47 L240.45 1537.5 L242.27 1537.54 L244.09 1537.57 L245.91 1537.61 L247.74 1537.65 L249.56 1537.7 L251.38 1537.74 L253.2 1537.79 L255.02 1537.85 L256.84 1537.91 L258.66 1537.97 L260.48 1538.03 L262.3 1538.1 L264.12 1538.18 L265.95 1538.26 L267.77 1538.34 L269.59 1538.44 L271.41 1538.53 L273.23 1538.64 L275.05 1538.75 L276.87 1538.87 L278.69 1538.99 L280.51 1539.13 L282.34 1539.27 L284.16 1539.42 L285.98 1539.59 L287.8 1539.76 L289.62 1539.95 L291.44 1540.15 L293.26 1540.36 L295.08 1540.59 L296.9 1540.83 L298.72 1541.08 L300.54 1541.36 L302.37 1541.65 L304.19 1541.96 L306.01 1542.29 L307.83 1542.65 L309.65 1543.02 L311.47 1543.42 L313.29 1543.85 L315.11 1544.3 L316.93 1544.79 L318.75 1545.3 L320.58 1545.85 L322.4 1546.43 L324.22 1547.05 L326.04 1547.71 L327.86 1548.4 L329.68 1549.15 L331.5 1549.93 L333.32 1550.77 L335.14 1551.66 L336.96 1552.6 L338.79 1553.59 L340.61 1554.65 L342.43 1555.76 L344.25 1556.94 L346.07 1558.19 L347.89 1559.51 L349.71 1560.91 L351.53 1562.38 L353.35 1563.93 L355.17 1565.57 L357 1567.29 L358.82 1569.1 L360.64 1571 L362.46 1573 L364.28 1575.09 L366.1 1577.29 L367.92 1579.59 L369.74 1581.99 L371.56 1584.49 L373.38 1587.11 L375.21 1589.83 L377.03 1592.66 L378.85 1595.6 L380.67 1598.64 L382.49 1601.79 L384.31 1605.05 L386.13 1608.42 L387.95 1611.88 L389.77 1615.44 L391.59 1619.1 L393.42 1622.84 L395.24 1626.67 L397.06 1630.58 L398.88 1634.55 L400.7 1638.6 L402.52 1642.7 L404.34 1646.85 L406.16 1651.05 L407.98 1655.27 L409.8 1659.52 L411.63 1663.79 L413.45 1668.06 L415.27 1672.33 L417.09 1676.58 L418.91 1680.82 L420.73 1685.02 L422.55 1689.18 L424.37 1693.3 L426.19 1697.36 L428.01 1701.35 L429.84 1705.28 L431.66 1709.12 L433.48 1712.89 L435.3 1716.57 L437.12 1720.15 L438.94 1723.64 L440.76 1727.02 L442.58 1730.31 L444.4 1733.49 L446.23 1736.56 L448.05 1739.52 L449.87 1742.38 L451.69 1745.13 L453.51 1747.77 L455.33 1750.3 L457.15 1752.72 L458.97 1755.05 L460.79 1757.26 L462.61 1759.38 L464.43 1761.4 L466.26 1763.33 L468.08 1765.16 L469.9 1766.9 L471.72 1768.56 L473.54 1770.13 L475.36 1771.62 L477.18 1773.03 L479 1774.37 L480.82 1775.64 L482.64 1776.84 L484.47 1777.97 L486.29 1779.04 L488.11 1780.05 L489.93 1781 L491.75 1781.9 L493.57 1782.75 L495.39 1783.55 L497.21 1784.3 L499.03 1785.01 L500.86 1785.67 L502.68 1786.3 L504.5 1786.89 L506.32 1787.45 L508.14 1787.97 L509.96 1788.46 L511.78 1788.92 L513.6 1789.35 L515.42 1789.76 L517.24 1790.14 L519.06 1790.5 L520.89 1790.84 L522.71 1791.15 L524.53 1791.45 L526.35 1791.73 L528.17 1791.99 L529.99 1792.23 L531.81 1792.46 L533.63 1792.68 L535.45 1792.88 L537.27 1793.07 L539.1 1793.25 L540.92 1793.41 L542.74 1793.57 L544.56 1793.72 L546.38 1793.85 L548.2 1793.98 L550.02 1794.1 L551.84 1794.21 L553.66 1794.32 L555.49 1794.42 L557.31 1794.51 L559.13 1794.6 L560.95 1794.68 L562.77 1794.76 L564.59 1794.83 L566.41 1794.89 L568.23 1794.96 L570.05 1795.02 L571.87 1795.07 L573.69 1795.12 L575.52 1795.17 L577.34 1795.21 L579.16 1795.26 L580.98 1795.3 L582.8 1795.33 L584.62 1795.37 L586.44 1795.4 L588.26 1795.43 L590.08 1795.46 L591.9 1795.49 L593.73 1795.51 L595.55 1795.53 L597.37 1795.56 L599.19 1795.58 L601.01 1795.6 L602.83 1795.61 L604.65 1795.63 L606.47 1795.65 L608.29 1795.66 L610.12 1795.67 L611.94 1795.69 L613.76 1795.7 L615.58 1795.71 L617.4 1795.72 L619.22 1795.73 L621.04 1795.74 L622.86 1795.75 L624.68 1795.76 L626.5 1795.77 L628.32 1795.77 L630.15 1795.78 L631.97 1795.79 L633.79 1795.79 L635.61 1795.8 L637.43 1795.8 L639.25 1795.81 L641.07 1795.81 L642.89 1795.82 L644.71 1795.82 L646.53 1795.82 L648.36 1795.83 L650.18 1795.83 L652 1795.83 L653.82 1795.84 L655.64 1795.84 L657.46 1795.84 L659.28 1795.84 L661.1 1795.85 L662.92 1795.85 L664.75 1795.85 L666.57 1795.85 L668.39 1795.85 L670.21 1795.85 L672.03 1795.86 L673.85 1795.86 L675.67 1795.86 L677.49 1795.86 L679.31 1795.86 L681.13 1795.86 L682.95 1795.86 L684.78 1795.86 L686.6 1795.86 L688.42 1795.87 L690.24 1795.87 L692.06 1795.87 L693.88 1795.87 L695.7 1795.87 L697.52 1795.87 L699.34 1795.87 L701.16 1795.87 L702.99 1795.87 L704.81 1795.87 L706.63 1795.87 L708.45 1795.87 L710.27 1795.87 L712.09 1795.87 L713.91 1795.87 L715.73 1795.87 L717.55 1795.87 L719.37 1795.87 L721.2 1795.87 L723.02 1795.87 L724.84 1795.87 L726.66 1795.87 L728.48 1795.87 L730.3 1795.87 L732.12 1795.87 L733.94 1795.87 L735.76 1795.88 L737.58 1795.88 L739.41 1795.88 L741.23 1795.88 L743.05 1795.88 L744.87 1795.88 L746.69 1795.88 L748.51 1795.88 L750.33 1795.88 L752.15 1795.88 L753.97 1795.88 L755.79 1795.88 L757.62 1795.88 L759.44 1795.88 L761.26 1795.88 L763.08 1795.88 L764.9 1795.88" fill="none" stroke="#de5c27" stroke-width="6.1" stroke-linejoin="round" stroke-linecap="round"/>
<path d="M218.6 1541.49 L220.42 1541.49 L222.24 1541.49 L224.06 1541.49 L225.88 1541.49 L227.7 1541.49 L229.53 1541.49 L231.35 1541.49 L233.17 1541.49 L234.99 1541.49 L236.81 1541.49 L238.63 1541.49 L240.45 1541.49 L242.27 1541.49 L244.09 1541.49 L245.91 1541.49 L247.74 1541.49 L249.56 1541.49 L251.38 1541.49 L253.2 1541.49 L255.02 1541.49 L256.84 1541.49 L258.66 1541.49 L260.48 1541.49 L262.3 1541.49 L264.12 1541.49 L265.95 1541.49 L267.77 1541.49 L269.59 1541.49 L271.41 1541.49 L273.23 1541.49 L275.05 1541.49 L276.87 1541.49 L278.69 1541.49 L280.51 1541.49 L282.34 1541.49 L284.16 1541.49 L285.98 1541.49 L287.8 1541.49 L289.62 1541.49 L291.44 1541.49 L293.26 1541.49 L295.08 1541.49 L296.9 1541.49 L298.72 1541.49 L300.54 1541.49 L302.37 1541.49 L304.19 1541.49 L306.01 1541.49 L307.83 1541.49 L309.65 1541.49 L311.47 1541.49 L313.29 1541.49 L315.11 1541.49 L316.93 1541.49 L318.75 1541.49 L320.58 1541.49 L322.4 1541.49 L324.22 1541.49 L326.04 1541.49 L327.86 1541.49 L329.68 1541.49 L331.5 1541.49 L333.32 1541.49 L335.14 1541.49 L336.96 1541.49 L338.79 1541.49 L340.61 1541.49 L342.43 1541.49 L344.25 1541.49 L346.07 1541.49 L347.89 1541.49 L349.71 1541.49 L351.53 1541.49 L353.35 1541.49 L355.17 1541.49 L357 1541.49 L358.82 1541.49 L360.64 1541.49 L362.46 1541.49 L364.28 1541.49 L366.1 1541.49 L367.92 1541.49 L369.74 1541.49 L371.56 1541.49 L373.38 1541.49 L375.21 1541.49 L377.03 1541.49 L378.85 1541.49 L380.67 1541.49 L382.49 1541.49 L384.31 1541.49 L386.13 1541.49 L387.95 1541.49 L389.77 1541.49 L391.59 1541.49 L393.42 1541.49 L395.24 1541.49 L397.06 1541.49 L398.88 1541.49 L400.7 1541.49 L402.52 1541.49 L404.34 1541.49 L406.16 1541.49 L407.98 1541.49 L409.8 1541.49 L411.63 1541.49 L413.45 1541.49 L415.27 1541.49 L417.09 1541.49 L418.91 1541.49 L420.73 1541.49 L422.55 1541.49 L424.37 1541.49 L426.19 1541.49 L428.01 1541.49 L429.84 1541.49 L431.66 1541.49 L433.48 1541.49 L435.3 1541.49 L437.12 1541.49 L438.94 1541.49 L440.76 1541.49 L442.58 1541.49 L444.4 1541.49 L446.23 1541.49 L448.05 1541.49 L449.87 1541.49 L451.69 1541.49 L453.51 1541.49 L455.33 1541.49 L457.15 1541.49 L458.97 1541.49 L460.79 1541.49 L462.61 1541.49 L464.43 1541.49 L466.26 1541.49 L468.08 1541.49 L469.9 1541.49 L471.72 1541.49 L473.54 1541.49 L475.36 1541.49 L477.18 1541.5 L479 1541.5 L480.82 1541.5 L482.64 1541.5 L484.47 1541.5 L486.29 1541.5 L488.11 1541.5 L489.93 1541.5 L491.75 1541.5 L493.57 1541.5 L495.39 1541.5 L497.21 1541.5 L499.03 1541.5 L500.86 1541.51 L502.68 1541.51 L504.5 1541.51 L506.32 1541.51 L508.14 1541.51 L509.96 1541.51 L511.78 1541.51 L513.6 1541.52 L515.42 1541.52 L517.24 1541.52 L519.06 1541.52 L520.89 1541.53 L522.71 1541.53 L524.53 1541.53 L526.35 1541.53 L528.17 1541.54 L529.99 1541.54 L531.81 1541.55 L533.63 1541.55 L535.45 1541.56 L537.27 1541.56 L539.1 1541.57 L540.92 1541.57 L542.74 1541.58 L544.56 1541.58 L546.38 1541.59 L548.2 1541.6 L550.02 1541.61 L551.84 1541.62 L553.66 1541.63 L555.49 1541.64 L557.31 1541.65 L559.13 1541.66 L560.95 1541.67 L562.77 1541.69 L564.59 1541.7 L566.41 1541.72 L568.23 1541.74 L570.05 1541.76 L571.87 1541.78 L573.69 1541.8 L575.52 1541.82 L577.34 1541.85 L579.16 1541.87 L580.98 1541.9 L582.8 1541.94 L584.62 1541.97 L586.44 1542.01 L588.26 1542.05 L590.08 1542.09 L591.9 1542.13 L593.73 1542.18 L595.55 1542.24 L597.37 1542.29 L599.19 1542.35 L601.01 1542.42 L602.83 1542.49 L604.65 1542.57 L606.47 1542.65 L608.29 1542.74 L610.12 1542.83 L611.94 1542.94 L613.76 1543.05 L615.58 1543.16 L617.4 1543.29 L619.22 1543.43 L621.04 1543.57 L622.86 1543.73 L624.68 1543.9 L626.5 1544.09 L628.32 1544.28 L630.15 1544.49 L631.97 1544.72 L633.79 1544.96 L635.61 1545.22 L637.43 1545.5 L639.25 1545.81 L641.07 1546.13 L642.89 1546.48 L644.71 1546.85 L646.53 1547.25 L648.36 1547.68 L650.18 1548.14 L652 1548.64 L653.82 1549.16 L655.64 1549.73 L657.46 1550.34 L659.28 1550.99 L661.1 1551.69 L662.92 1552.43 L664.75 1553.23 L666.57 1554.08 L668.39 1554.99 L670.21 1555.96 L672.03 1557 L673.85 1558.1 L675.67 1559.28 L677.49 1560.53 L679.31 1561.87 L681.13 1563.29 L682.95 1564.8 L684.78 1566.4 L686.6 1568.1 L688.42 1569.89 L690.24 1571.8 L692.06 1573.81 L693.88 1575.93 L695.7 1578.17 L697.52 1580.53 L699.34 1583.01 L701.16 1585.61 L702.99 1588.34 L704.81 1591.19 L706.63 1594.18 L708.45 1597.29 L710.27 1600.53 L712.09 1603.89 L713.91 1607.38 L715.73 1610.99 L717.55 1614.71 L719.37 1618.55 L721.2 1622.49 L723.02 1626.54 L724.84 1630.67 L726.66 1634.89 L728.48 1639.18 L730.3 1643.54 L732.12 1647.95 L733.94 1652.41 L735.76 1656.89 L737.58 1661.4 L739.41 1665.91 L741.23 1670.41 L743.05 1674.9 L744.87 1679.36 L746.69 1683.78 L748.51 1688.14 L750.33 1692.44 L752.15 1696.67 L753.97 1700.82 L755.79 1704.87 L757.62 1708.83 L759.44 1712.68 L761.26 1716.42 L763.08 1720.05 L764.9 1723.55" fill="none" stroke="#000" stroke-width="6.1" stroke-linejoin="round" stroke-linecap="round"/>
<path d="M218.6 1535.28 L227.2 1551.08 L210 1551.08Z" fill="#1b733a"/>
<path d="M271.54 1530.29 L280.14 1546.09 L262.94 1546.09Z" fill="#1b733a"/>
<path d="M312.66 1546.51 L321.26 1562.31 L304.06 1562.31Z" fill="#1b733a"/>
<path d="M353.77 1563.71 L362.37 1579.51 L345.17 1579.51Z" fill="#1b733a"/>
<path d="M394.88 1607.11 L403.48 1622.91 L386.28 1622.91Z" fill="#1b733a"/>
<path d="M435.99 1660.48 L444.59 1676.28 L427.39 1676.28Z" fill="#1b733a"/>
<path d="M477.11 1753.51 L485.71 1769.31 L468.51 1769.31Z" fill="#1b733a"/>
<path d="M518.22 1794.66 L526.82 1810.46 L509.62 1810.46Z" fill="#1b733a"/>
<path d="M559.33 1789.17 L567.93 1804.97 L550.73 1804.97Z" fill="#1b733a"/>
<path d="M600.45 1797.9 L609.05 1813.7 L591.85 1813.7Z" fill="#1b733a"/>
<path d="M641.56 1782.19 L650.16 1797.99 L632.96 1797.99Z" fill="#1b733a"/>
<path d="M682.67 1789.67 L691.27 1805.47 L674.07 1805.47Z" fill="#1b733a"/>
<path d="M723.79 1794.66 L732.39 1810.46 L715.19 1810.46Z" fill="#1b733a"/>
<path d="M764.9 1789.67 L773.5 1805.47 L756.3 1805.47Z" fill="#1b733a"/>
<path d="M218.6 1535.75 V1553.21 M210.1 1535.75 H227.1 M210.1 1553.21 H227.1" fill="none" stroke="#0f5794" stroke-width="1.9"/>
<path d="M271.54 1529.52 V1561.94 M263.04 1529.52 H280.04 M263.04 1561.94 H280.04" fill="none" stroke="#0f5794" stroke-width="1.9"/>
<path d="M353.77 1599.1 V1618.06 M345.27 1599.1 H362.27 M345.27 1618.06 H362.27" fill="none" stroke="#0f5794" stroke-width="1.9"/>
<path d="M218.6 1535.88 L227.2 1544.48 L218.6 1553.08 L210 1544.48Z" fill="#0f5794"/>
<path d="M271.54 1537.13 L280.14 1545.73 L271.54 1554.33 L262.94 1545.73Z" fill="#0f5794"/>
<path d="M312.66 1576.78 L321.26 1585.38 L312.66 1593.98 L304.06 1585.38Z" fill="#0f5794"/>
<path d="M353.77 1599.98 L362.37 1608.58 L353.77 1617.18 L345.17 1608.58Z" fill="#0f5794"/>
<path d="M394.88 1659.58 L403.48 1668.18 L394.88 1676.78 L386.28 1668.18Z" fill="#0f5794"/>
<path d="M435.99 1744.38 L444.59 1752.98 L435.99 1761.58 L427.39 1752.98Z" fill="#0f5794"/>
<path d="M477.11 1781.54 L485.71 1790.14 L477.11 1798.74 L468.51 1790.14Z" fill="#0f5794"/>
<path d="M518.22 1781.04 L526.82 1789.64 L518.22 1798.24 L509.62 1789.64Z" fill="#0f5794"/>
<path d="M559.33 1774.31 L567.93 1782.91 L559.33 1791.51 L550.73 1782.91Z" fill="#0f5794"/>
<path d="M600.45 1785.03 L609.05 1793.63 L600.45 1802.23 L591.85 1793.63Z" fill="#0f5794"/>
<path d="M641.56 1766.58 L650.16 1775.18 L641.56 1783.78 L632.96 1775.18Z" fill="#0f5794"/>
<path d="M682.67 1790.77 L691.27 1799.37 L682.67 1807.97 L674.07 1799.37Z" fill="#0f5794"/>
<path d="M723.79 1782.04 L732.39 1790.64 L723.79 1799.24 L715.19 1790.64Z" fill="#0f5794"/>
<path d="M764.9 1781.54 L773.5 1790.14 L764.9 1798.74 L756.3 1790.14Z" fill="#0f5794"/>
<path d="M218.6 1528.27 V1545.73 M210.1 1528.27 H227.1 M210.1 1545.73 H227.1" fill="none" stroke="#de5c27" stroke-width="1.9"/>
<path d="M271.54 1515.3 V1539.24 M263.04 1515.3 H280.04 M263.04 1539.24 H280.04" fill="none" stroke="#de5c27" stroke-width="1.9"/>
<path d="M312.66 1551.47 V1561.44 M304.16 1551.47 H321.16 M304.16 1561.44 H321.16" fill="none" stroke="#de5c27" stroke-width="1.9"/>
<path d="M353.77 1552.71 V1577.65 M345.27 1552.71 H362.27 M345.27 1577.65 H362.27" fill="none" stroke="#de5c27" stroke-width="1.9"/>
<path d="M435.99 1706.84 V1724.3 M427.49 1706.84 H444.49 M427.49 1724.3 H444.49" fill="none" stroke="#de5c27" stroke-width="1.9"/>
<rect x="212.5" y="1530.9" width="12.2" height="12.2" fill="#de5c27"/>
<rect x="265.44" y="1521.17" width="12.2" height="12.2" fill="#de5c27"/>
<rect x="306.56" y="1550.35" width="12.2" height="12.2" fill="#de5c27"/>
<rect x="347.67" y="1559.08" width="12.2" height="12.2" fill="#de5c27"/>
<rect x="388.78" y="1619.69" width="12.2" height="12.2" fill="#de5c27"/>
<rect x="429.89" y="1709.47" width="12.2" height="12.2" fill="#de5c27"/>
<rect x="471.01" y="1768.83" width="12.2" height="12.2" fill="#de5c27"/>
<rect x="512.12" y="1791.77" width="12.2" height="12.2" fill="#de5c27"/>
<rect x="553.23" y="1782.54" width="12.2" height="12.2" fill="#de5c27"/>
<rect x="594.35" y="1795.26" width="12.2" height="12.2" fill="#de5c27"/>
<rect x="635.46" y="1780.05" width="12.2" height="12.2" fill="#de5c27"/>
<rect x="717.69" y="1789.28" width="12.2" height="12.2" fill="#de5c27"/>
<rect x="758.8" y="1784.54" width="12.2" height="12.2" fill="#de5c27"/>
<path d="M218.6 1529.27 V1544.23 M210.1 1529.27 H227.1 M210.1 1544.23 H227.1" fill="none" stroke="#000" stroke-width="1.9"/>
<path d="M271.54 1531.26 V1548.72 M263.04 1531.26 H280.04 M263.04 1548.72 H280.04" fill="none" stroke="#000" stroke-width="1.9"/>
<path d="M394.88 1535.25 V1550.22 M386.38 1535.25 H403.38 M386.38 1550.22 H403.38" fill="none" stroke="#000" stroke-width="1.9"/>
<path d="M435.99 1548.97 V1566.43 M427.49 1548.97 H444.49 M427.49 1566.43 H444.49" fill="none" stroke="#000" stroke-width="1.9"/>
<path d="M477.11 1538.75 V1553.71 M468.61 1538.75 H485.61 M468.61 1553.71 H485.61" fill="none" stroke="#000" stroke-width="1.9"/>
<path d="M518.22 1524.53 V1546.48 M509.72 1524.53 H526.72 M509.72 1546.48 H526.72" fill="none" stroke="#000" stroke-width="1.9"/>
<path d="M559.33 1528.52 V1546.48 M550.83 1528.52 H567.83 M550.83 1546.48 H567.83" fill="none" stroke="#000" stroke-width="1.9"/>
<path d="M641.56 1522.04 V1544.98 M633.06 1522.04 H650.06 M633.06 1544.98 H650.06" fill="none" stroke="#000" stroke-width="1.9"/>
<path d="M682.67 1568.42 V1584.88 M674.17 1568.42 H691.17 M674.17 1584.88 H691.17" fill="none" stroke="#000" stroke-width="1.9"/>
<circle cx="218.6" cy="1536.75" r="7.5" fill="#000"/>
<circle cx="271.54" cy="1539.99" r="7.5" fill="#000"/>
<circle cx="312.66" cy="1547.72" r="7.5" fill="#000"/>
<circle cx="353.77" cy="1546.23" r="7.5" fill="#000"/>
<circle cx="394.88" cy="1542.74" r="7.5" fill="#000"/>
<circle cx="435.99" cy="1557.7" r="7.5" fill="#000"/>
<circle cx="477.11" cy="1546.23" r="7.5" fill="#000"/>
<circle cx="518.22" cy="1535.5" r="7.5" fill="#000"/>
<circle cx="559.33" cy="1537.5" r="7.5" fill="#000"/>
<circle cx="641.56" cy="1533.51" r="7.5" fill="#000"/>
<circle cx="682.67" cy="1576.65" r="7.5" fill="#000"/>
<circle cx="723.79" cy="1628.28" r="7.5" fill="#000"/>
<circle cx="764.9" cy="1724.8" r="7.5" fill="#000"/>
<path d="M1010.5 1412.3 H1022.5 V1815.76" fill="none" stroke="#000" stroke-width="4.6"/>
<line x1="1022.5" y1="1803.76" x2="1571.1" y2="1803.76" stroke="#000" stroke-width="4.6"/>
<line x1="1010.5" y1="1786.4" x2="1022.5" y2="1786.4" stroke="#000" stroke-width="4.6"/>
<line x1="1010.5" y1="1661.7" x2="1022.5" y2="1661.7" stroke="#000" stroke-width="4.6"/>
<line x1="1010.5" y1="1537" x2="1022.5" y2="1537" stroke="#000" stroke-width="4.6"/>
<text x="1009.3" y="1796.9" font-size="29.5" font-weight="bold" text-anchor="end">0</text>
<text x="1009.3" y="1672.2" font-size="29.5" font-weight="bold" text-anchor="end">50</text>
<text x="1009.3" y="1547.5" font-size="29.5" font-weight="bold" text-anchor="end">100</text>
<text x="1009.3" y="1422.8" font-size="29.5" font-weight="bold" text-anchor="end">150</text>
<text x="1022.5" y="1846.76" font-size="29.5" font-weight="bold" text-anchor="middle">0.1</text>
<line x1="1063.61" y1="1803.76" x2="1063.61" y2="1811.96" stroke="#000" stroke-width="4.3"/>
<line x1="1087.66" y1="1803.76" x2="1087.66" y2="1811.96" stroke="#000" stroke-width="4.3"/>
<line x1="1104.73" y1="1803.76" x2="1104.73" y2="1811.96" stroke="#000" stroke-width="4.3"/>
<line x1="1117.96" y1="1803.76" x2="1117.96" y2="1811.96" stroke="#000" stroke-width="4.3"/>
<line x1="1128.78" y1="1803.76" x2="1128.78" y2="1811.96" stroke="#000" stroke-width="4.3"/>
<line x1="1137.92" y1="1803.76" x2="1137.92" y2="1811.96" stroke="#000" stroke-width="4.3"/>
<line x1="1145.84" y1="1803.76" x2="1145.84" y2="1811.96" stroke="#000" stroke-width="4.3"/>
<line x1="1152.83" y1="1803.76" x2="1152.83" y2="1811.96" stroke="#000" stroke-width="4.3"/>
<line x1="1159.08" y1="1803.76" x2="1159.08" y2="1815.76" stroke="#000" stroke-width="4.6"/>
<text x="1159.08" y="1846.76" font-size="29.5" font-weight="bold" text-anchor="middle">1</text>
<line x1="1200.19" y1="1803.76" x2="1200.19" y2="1811.96" stroke="#000" stroke-width="4.3"/>
<line x1="1224.24" y1="1803.76" x2="1224.24" y2="1811.96" stroke="#000" stroke-width="4.3"/>
<line x1="1241.3" y1="1803.76" x2="1241.3" y2="1811.96" stroke="#000" stroke-width="4.3"/>
<line x1="1254.54" y1="1803.76" x2="1254.54" y2="1811.96" stroke="#000" stroke-width="4.3"/>
<line x1="1265.35" y1="1803.76" x2="1265.35" y2="1811.96" stroke="#000" stroke-width="4.3"/>
<line x1="1274.49" y1="1803.76" x2="1274.49" y2="1811.96" stroke="#000" stroke-width="4.3"/>
<line x1="1282.41" y1="1803.76" x2="1282.41" y2="1811.96" stroke="#000" stroke-width="4.3"/>
<line x1="1289.4" y1="1803.76" x2="1289.4" y2="1811.96" stroke="#000" stroke-width="4.3"/>
<line x1="1295.65" y1="1803.76" x2="1295.65" y2="1815.76" stroke="#000" stroke-width="4.6"/>
<text x="1295.65" y="1846.76" font-size="29.5" font-weight="bold" text-anchor="middle">10</text>
<line x1="1336.76" y1="1803.76" x2="1336.76" y2="1811.96" stroke="#000" stroke-width="4.3"/>
<line x1="1360.81" y1="1803.76" x2="1360.81" y2="1811.96" stroke="#000" stroke-width="4.3"/>
<line x1="1377.88" y1="1803.76" x2="1377.88" y2="1811.96" stroke="#000" stroke-width="4.3"/>
<line x1="1391.11" y1="1803.76" x2="1391.11" y2="1811.96" stroke="#000" stroke-width="4.3"/>
<line x1="1401.93" y1="1803.76" x2="1401.93" y2="1811.96" stroke="#000" stroke-width="4.3"/>
<line x1="1411.07" y1="1803.76" x2="1411.07" y2="1811.96" stroke="#000" stroke-width="4.3"/>
<line x1="1418.99" y1="1803.76" x2="1418.99" y2="1811.96" stroke="#000" stroke-width="4.3"/>
<line x1="1425.98" y1="1803.76" x2="1425.98" y2="1811.96" stroke="#000" stroke-width="4.3"/>
<line x1="1432.22" y1="1803.76" x2="1432.22" y2="1815.76" stroke="#000" stroke-width="4.6"/>
<text x="1432.22" y="1846.76" font-size="29.5" font-weight="bold" text-anchor="middle">100</text>
<line x1="1473.34" y1="1803.76" x2="1473.34" y2="1811.96" stroke="#000" stroke-width="4.3"/>
<line x1="1497.39" y1="1803.76" x2="1497.39" y2="1811.96" stroke="#000" stroke-width="4.3"/>
<line x1="1514.45" y1="1803.76" x2="1514.45" y2="1811.96" stroke="#000" stroke-width="4.3"/>
<line x1="1527.69" y1="1803.76" x2="1527.69" y2="1811.96" stroke="#000" stroke-width="4.3"/>
<line x1="1538.5" y1="1803.76" x2="1538.5" y2="1811.96" stroke="#000" stroke-width="4.3"/>
<line x1="1547.64" y1="1803.76" x2="1547.64" y2="1811.96" stroke="#000" stroke-width="4.3"/>
<line x1="1555.56" y1="1803.76" x2="1555.56" y2="1811.96" stroke="#000" stroke-width="4.3"/>
<line x1="1562.55" y1="1803.76" x2="1562.55" y2="1811.96" stroke="#000" stroke-width="4.3"/>
<line x1="1568.8" y1="1803.76" x2="1568.8" y2="1815.76" stroke="#000" stroke-width="4.6"/>
<text x="1568.8" y="1846.76" font-size="29.5" font-weight="bold" text-anchor="middle">1000</text>
<text x="1296.2" y="1887.7" font-size="30.5" font-weight="bold" text-anchor="middle">Neratinib Concentration (nM)</text>
<text transform="translate(951.5 1602) rotate(-90)" font-size="30.5" font-weight="bold" text-anchor="middle">&#37; Cell Viability</text>
<path d="M1022.5 1547.14 L1024.32 1547.15 L1026.14 1547.17 L1027.96 1547.18 L1029.78 1547.2 L1031.61 1547.22 L1033.43 1547.23 L1035.25 1547.26 L1037.07 1547.28 L1038.89 1547.3 L1040.71 1547.33 L1042.53 1547.36 L1044.35 1547.39 L1046.17 1547.42 L1047.99 1547.45 L1049.82 1547.49 L1051.64 1547.53 L1053.46 1547.58 L1055.28 1547.62 L1057.1 1547.68 L1058.92 1547.73 L1060.74 1547.79 L1062.56 1547.86 L1064.38 1547.93 L1066.2 1548 L1068.03 1548.08 L1069.85 1548.17 L1071.67 1548.27 L1073.49 1548.37 L1075.31 1548.48 L1077.13 1548.6 L1078.95 1548.73 L1080.77 1548.87 L1082.59 1549.01 L1084.41 1549.18 L1086.24 1549.35 L1088.06 1549.54 L1089.88 1549.74 L1091.7 1549.96 L1093.52 1550.19 L1095.34 1550.45 L1097.16 1550.72 L1098.98 1551.01 L1100.8 1551.33 L1102.62 1551.67 L1104.44 1552.04 L1106.27 1552.43 L1108.09 1552.86 L1109.91 1553.31 L1111.73 1553.81 L1113.55 1554.34 L1115.37 1554.91 L1117.19 1555.52 L1119.01 1556.17 L1120.83 1556.88 L1122.65 1557.64 L1124.48 1558.45 L1126.3 1559.32 L1128.12 1560.25 L1129.94 1561.25 L1131.76 1562.33 L1133.58 1563.47 L1135.4 1564.7 L1137.22 1566.01 L1139.04 1567.4 L1140.87 1568.89 L1142.69 1570.48 L1144.51 1572.17 L1146.33 1573.97 L1148.15 1575.88 L1149.97 1577.91 L1151.79 1580.06 L1153.61 1582.34 L1155.43 1584.74 L1157.25 1587.28 L1159.08 1589.96 L1160.9 1592.78 L1162.72 1595.74 L1164.54 1598.84 L1166.36 1602.09 L1168.18 1605.49 L1170 1609.03 L1171.82 1612.71 L1173.64 1616.54 L1175.46 1620.5 L1177.29 1624.59 L1179.11 1628.81 L1180.93 1633.15 L1182.75 1637.6 L1184.57 1642.15 L1186.39 1646.79 L1188.21 1651.51 L1190.03 1656.3 L1191.85 1661.15 L1193.67 1666.04 L1195.49 1670.95 L1197.32 1675.88 L1199.14 1680.8 L1200.96 1685.71 L1202.78 1690.59 L1204.6 1695.43 L1206.42 1700.21 L1208.24 1704.92 L1210.06 1709.54 L1211.88 1714.08 L1213.7 1718.5 L1215.53 1722.82 L1217.35 1727.02 L1219.17 1731.09 L1220.99 1735.02 L1222.81 1738.82 L1224.63 1742.48 L1226.45 1745.99 L1228.27 1749.36 L1230.09 1752.58 L1231.91 1755.66 L1233.74 1758.59 L1235.56 1761.38 L1237.38 1764.04 L1239.2 1766.55 L1241.02 1768.93 L1242.84 1771.18 L1244.66 1773.31 L1246.48 1775.32 L1248.3 1777.21 L1250.12 1778.99 L1251.95 1780.66 L1253.77 1782.23 L1255.59 1783.7 L1257.41 1785.08 L1259.23 1786.37 L1261.05 1787.58 L1262.87 1788.71 L1264.69 1789.77 L1266.51 1790.76 L1268.34 1791.68 L1270.16 1792.54 L1271.98 1793.34 L1273.8 1794.09 L1275.62 1794.79 L1277.44 1795.43 L1279.26 1796.04 L1281.08 1796.6 L1282.9 1797.12 L1284.72 1797.61 L1286.55 1798.06 L1288.37 1798.48 L1290.19 1798.87 L1292.01 1799.23 L1293.83 1799.57 L1295.65 1799.88 L1297.47 1800.17 L1299.29 1800.44 L1301.11 1800.69 L1302.93 1800.92 L1304.76 1801.13 L1306.58 1801.33 L1308.4 1801.52 L1310.22 1801.69 L1312.04 1801.85 L1313.86 1802 L1315.68 1802.13 L1317.5 1802.26 L1319.32 1802.38 L1321.14 1802.49 L1322.96 1802.59 L1324.79 1802.68 L1326.61 1802.77 L1328.43 1802.85 L1330.25 1802.92 L1332.07 1802.99 L1333.89 1803.05 L1335.71 1803.11 L1337.53 1803.17 L1339.35 1803.22 L1341.17 1803.27 L1343 1803.31 L1344.82 1803.35 L1346.64 1803.39 L1348.46 1803.42 L1350.28 1803.45 L1352.1 1803.48 L1353.92 1803.51 L1355.74 1803.54 L1357.56 1803.56 L1359.38 1803.58 L1361.21 1803.6 L1363.03 1803.62 L1364.85 1803.64 L1366.67 1803.66 L1368.49 1803.67 L1370.31 1803.68 L1372.13 1803.7 L1373.95 1803.71 L1375.77 1803.72 L1377.6 1803.73 L1379.42 1803.74 L1381.24 1803.75 L1383.06 1803.76 L1384.88 1803.76 L1386.7 1803.77 L1388.52 1803.78 L1390.34 1803.78 L1392.16 1803.79 L1393.98 1803.79 L1395.8 1803.8 L1397.63 1803.8 L1399.45 1803.81 L1401.27 1803.81 L1403.09 1803.81 L1404.91 1803.82 L1406.73 1803.82 L1408.55 1803.82 L1410.37 1803.83 L1412.19 1803.83 L1414.01 1803.83 L1415.84 1803.83 L1417.66 1803.83 L1419.48 1803.84 L1421.3 1803.84 L1423.12 1803.84 L1424.94 1803.84 L1426.76 1803.84 L1428.58 1803.84 L1430.4 1803.84 L1432.22 1803.85 L1434.05 1803.85 L1435.87 1803.85 L1437.69 1803.85 L1439.51 1803.85 L1441.33 1803.85 L1443.15 1803.85 L1444.97 1803.85 L1446.79 1803.85 L1448.61 1803.85 L1450.43 1803.85 L1452.26 1803.85 L1454.08 1803.85 L1455.9 1803.85 L1457.72 1803.85 L1459.54 1803.85 L1461.36 1803.85 L1463.18 1803.85 L1465 1803.85 L1466.82 1803.86 L1468.64 1803.86 L1470.47 1803.86 L1472.29 1803.86 L1474.11 1803.86 L1475.93 1803.86 L1477.75 1803.86 L1479.57 1803.86 L1481.39 1803.86 L1483.21 1803.86 L1485.03 1803.86 L1486.86 1803.86 L1488.68 1803.86 L1490.5 1803.86 L1492.32 1803.86 L1494.14 1803.86 L1495.96 1803.86 L1497.78 1803.86 L1499.6 1803.86 L1501.42 1803.86 L1503.24 1803.86 L1505.07 1803.86 L1506.89 1803.86 L1508.71 1803.86 L1510.53 1803.86 L1512.35 1803.86 L1514.17 1803.86 L1515.99 1803.86 L1517.81 1803.86 L1519.63 1803.86 L1521.45 1803.86 L1523.27 1803.86 L1525.1 1803.86 L1526.92 1803.86 L1528.74 1803.86 L1530.56 1803.86 L1532.38 1803.86 L1534.2 1803.86 L1536.02 1803.86 L1537.84 1803.86 L1539.66 1803.86 L1541.48 1803.86 L1543.31 1803.86 L1545.13 1803.86 L1546.95 1803.86 L1548.77 1803.86 L1550.59 1803.86 L1552.41 1803.86 L1554.23 1803.86 L1556.05 1803.86 L1557.87 1803.86 L1559.69 1803.86 L1561.52 1803.86 L1563.34 1803.86 L1565.16 1803.86 L1566.98 1803.86 L1568.8 1803.86" fill="none" stroke="#1b733a" stroke-width="5.4" stroke-linejoin="round" stroke-linecap="round"/>
<path d="M1022.5 1551.96 L1023.4 1552.15 L1024.3 1552.35 L1025.21 1552.55 L1026.11 1552.76 L1027.01 1552.97 L1027.91 1553.19 L1028.82 1553.41 L1029.72 1553.63 L1030.62 1553.86 L1031.52 1554.1 L1032.43 1554.34 L1033.33 1554.59 L1034.23 1554.84 L1035.13 1555.09 L1036.04 1555.35 L1036.94 1555.62 L1037.84 1555.89 L1038.74 1556.17 L1039.65 1556.46 L1040.55 1556.75 L1041.45 1557.04 L1042.35 1557.34 L1043.26 1557.65 L1044.16 1557.97 L1045.06 1558.29 L1045.96 1558.61 L1046.87 1558.95 L1047.77 1559.29 L1048.67 1559.64 L1049.57 1559.99 L1050.48 1560.35 L1051.38 1560.72 L1052.28 1561.1 L1053.18 1561.49 L1054.09 1561.88 L1054.99 1562.28 L1055.89 1562.68 L1056.79 1563.1 L1057.69 1563.52 L1058.6 1563.96 L1059.5 1564.4 L1060.4 1564.85 L1061.3 1565.3 L1062.21 1565.77 L1063.11 1566.25 L1064.01 1566.73 L1064.91 1567.22 L1065.82 1567.73 L1066.72 1568.24 L1067.62 1568.76 L1068.52 1569.29 L1069.43 1569.84 L1070.33 1570.39 L1071.23 1570.95 L1072.13 1571.52 L1073.04 1572.11 L1073.94 1572.7 L1074.84 1573.3 L1075.74 1573.92 L1076.65 1574.54 L1077.55 1575.18 L1078.45 1575.83 L1079.35 1576.49 L1080.26 1577.16 L1081.16 1577.84 L1082.06 1578.53 L1082.96 1579.24 L1083.87 1579.95 L1084.77 1580.68 L1085.67 1581.43 L1086.57 1582.18 L1087.47 1582.94 L1088.38 1583.72 L1089.28 1584.51 L1090.18 1585.32 L1091.08 1586.13 L1091.99 1586.96 L1092.89 1587.8 L1093.79 1588.66 L1094.69 1589.53 L1095.6 1590.41 L1096.5 1591.3 L1097.4 1592.21 L1098.3 1593.13 L1099.21 1594.06 L1100.11 1595.01 L1101.01 1595.97 L1101.91 1596.94 L1102.82 1597.93 L1103.72 1598.93 L1104.62 1599.94 L1105.52 1600.97 L1106.43 1602.01 L1107.33 1603.06 L1108.23 1604.13 L1109.13 1605.21 L1110.04 1606.3 L1110.94 1607.41 L1111.84 1608.53 L1112.74 1609.67 L1113.65 1610.81 L1114.55 1611.97 L1115.45 1613.15 L1116.35 1614.33 L1117.26 1615.53 L1118.16 1616.74 L1119.06 1617.97 L1119.96 1619.2 L1120.86 1620.45 L1121.77 1621.71 L1122.67 1622.99 L1123.57 1624.27 L1124.47 1625.57 L1125.38 1626.87 L1126.28 1628.19 L1127.18 1629.52 L1128.08 1630.86 L1128.99 1632.21 L1129.89 1633.58 L1130.79 1634.95 L1131.69 1636.33 L1132.6 1637.72 L1133.5 1639.12 L1134.4 1640.53 L1135.3 1641.95 L1136.21 1643.38 L1137.11 1644.82 L1138.01 1646.26 L1138.91 1647.71 L1139.82 1649.17 L1140.72 1650.64 L1141.62 1652.11 L1142.52 1653.59 L1143.43 1655.07 L1144.33 1656.56 L1145.23 1658.06 L1146.13 1659.56 L1147.04 1661.06 L1147.94 1662.57 L1148.84 1664.09 L1149.74 1665.6 L1150.64 1667.12 L1151.55 1668.64 L1152.45 1670.17 L1153.35 1671.69 L1154.25 1673.22 L1155.16 1674.75 L1156.06 1676.28 L1156.96 1677.81 L1157.86 1679.34 L1158.77 1680.87 L1159.67 1682.4 L1160.57 1683.92 L1161.47 1685.45 L1162.38 1686.97 L1163.28 1688.49 L1164.18 1690.01 L1165.08 1691.52 L1165.99 1693.03 L1166.89 1694.54 L1167.79 1696.04 L1168.69 1697.54 L1169.6 1699.03 L1170.5 1700.52 L1171.4 1702 L1172.3 1703.47 L1173.21 1704.94 L1174.11 1706.4 L1175.01 1707.86 L1175.91 1709.3 L1176.82 1710.74 L1177.72 1712.17 L1178.62 1713.59 L1179.52 1715.01 L1180.43 1716.41 L1181.33 1717.8 L1182.23 1719.19 L1183.13 1720.56 L1184.03 1721.93 L1184.94 1723.28 L1185.84 1724.63 L1186.74 1725.96 L1187.64 1727.28 L1188.55 1728.6 L1189.45 1729.9 L1190.35 1731.18 L1191.25 1732.46 L1192.16 1733.73 L1193.06 1734.98 L1193.96 1736.22 L1194.86 1737.45 L1195.77 1738.66 L1196.67 1739.86 L1197.57 1741.05 L1198.47 1742.23 L1199.38 1743.39 L1200.28 1744.55 L1201.18 1745.68 L1202.08 1746.81 L1202.99 1747.92 L1203.89 1749.02 L1204.79 1750.1 L1205.69 1751.18 L1206.6 1752.23 L1207.5 1753.28 L1208.4 1754.31 L1209.3 1755.33 L1210.21 1756.33 L1211.11 1757.32 L1212.01 1758.3 L1212.91 1759.27 L1213.81 1760.22 L1214.72 1761.15 L1215.62 1762.08 L1216.52 1762.99 L1217.42 1763.89 L1218.33 1764.77 L1219.23 1765.64 L1220.13 1766.5 L1221.03 1767.35 L1221.94 1768.18 L1222.84 1769 L1223.74 1769.81 L1224.64 1770.6 L1225.55 1771.38 L1226.45 1772.15 L1227.35 1772.91 L1228.25 1773.66 L1229.16 1774.39 L1230.06 1775.11 L1230.96 1775.82 L1231.86 1776.52 L1232.77 1777.2 L1233.67 1777.88 L1234.57 1778.54 L1235.47 1779.19 L1236.38 1779.83 L1237.28 1780.46 L1238.18 1781.08 L1239.08 1781.69 L1239.99 1782.28 L1240.89 1782.87 L1241.79 1783.44 L1242.69 1784.01 L1243.6 1784.56 L1244.5 1785.11 L1245.4 1785.64 L1246.3 1786.17 L1247.2 1786.69 L1248.11 1787.19 L1249.01 1787.69 L1249.91 1788.18 L1250.81 1788.65 L1251.72 1789.12 L1252.62 1789.58 L1253.52 1790.04 L1254.42 1790.48 L1255.33 1790.91 L1256.23 1791.34 L1257.13 1791.76 L1258.03 1792.17 L1258.94 1792.57 L1259.84 1792.97 L1260.74 1793.35 L1261.64 1793.73 L1262.55 1794.1 L1263.45 1794.47 L1264.35 1794.83 L1265.25 1795.18 L1266.16 1795.52 L1267.06 1795.86 L1267.96 1796.19 L1268.86 1796.51 L1269.77 1796.82 L1270.67 1797.13 L1271.57 1797.44 L1272.47 1797.74 L1273.38 1798.03 L1274.28 1798.31 L1275.18 1798.59 L1276.08 1798.87 L1276.98 1799.14 L1277.89 1799.4 L1278.79 1799.66 L1279.69 1799.91 L1280.59 1800.16 L1281.5 1800.4 L1282.4 1800.64 L1283.3 1800.87 L1284.2 1801.1 L1285.11 1801.32 L1286.01 1801.54 L1286.91 1801.75 L1287.81 1801.96 L1288.72 1802.16 L1289.62 1802.36 L1290.52 1802.56 L1291.42 1802.75 L1292.33 1802.94 L1293.23 1803.12" fill="none" stroke="#0f5794" stroke-width="5.4" stroke-linejoin="round" stroke-linecap="round"/>
<path d="M1022.5 1544.54 L1024.32 1544.54 L1026.14 1544.55 L1027.96 1544.56 L1029.78 1544.56 L1031.61 1544.57 L1033.43 1544.58 L1035.25 1544.59 L1037.07 1544.6 L1038.89 1544.61 L1040.71 1544.62 L1042.53 1544.63 L1044.35 1544.65 L1046.17 1544.66 L1047.99 1544.68 L1049.82 1544.7 L1051.64 1544.72 L1053.46 1544.74 L1055.28 1544.77 L1057.1 1544.79 L1058.92 1544.82 L1060.74 1544.85 L1062.56 1544.89 L1064.38 1544.92 L1066.2 1544.97 L1068.03 1545.01 L1069.85 1545.06 L1071.67 1545.11 L1073.49 1545.17 L1075.31 1545.24 L1077.13 1545.31 L1078.95 1545.38 L1080.77 1545.46 L1082.59 1545.56 L1084.41 1545.66 L1086.24 1545.76 L1088.06 1545.88 L1089.88 1546.01 L1091.7 1546.15 L1093.52 1546.31 L1095.34 1546.48 L1097.16 1546.66 L1098.98 1546.86 L1100.8 1547.08 L1102.62 1547.32 L1104.44 1547.58 L1106.27 1547.87 L1108.09 1548.18 L1109.91 1548.52 L1111.73 1548.89 L1113.55 1549.29 L1115.37 1549.73 L1117.19 1550.21 L1119.01 1550.73 L1120.83 1551.29 L1122.65 1551.91 L1124.48 1552.58 L1126.3 1553.31 L1128.12 1554.1 L1129.94 1554.96 L1131.76 1555.89 L1133.58 1556.9 L1135.4 1557.99 L1137.22 1559.18 L1139.04 1560.46 L1140.87 1561.85 L1142.69 1563.35 L1144.51 1564.97 L1146.33 1566.71 L1148.15 1568.59 L1149.97 1570.61 L1151.79 1572.77 L1153.61 1575.09 L1155.43 1577.58 L1157.25 1580.23 L1159.08 1583.06 L1160.9 1586.07 L1162.72 1589.27 L1164.54 1592.66 L1166.36 1596.25 L1168.18 1600.03 L1170 1604.01 L1171.82 1608.18 L1173.64 1612.54 L1175.46 1617.09 L1177.29 1621.83 L1179.11 1626.73 L1180.93 1631.79 L1182.75 1637 L1184.57 1642.34 L1186.39 1647.8 L1188.21 1653.36 L1190.03 1658.99 L1191.85 1664.68 L1193.67 1670.4 L1195.49 1676.13 L1197.32 1681.86 L1199.14 1687.54 L1200.96 1693.18 L1202.78 1698.73 L1204.6 1704.19 L1206.42 1709.54 L1208.24 1714.75 L1210.06 1719.81 L1211.88 1724.72 L1213.7 1729.45 L1215.53 1734 L1217.35 1738.37 L1219.17 1742.54 L1220.99 1746.52 L1222.81 1750.31 L1224.63 1753.89 L1226.45 1757.29 L1228.27 1760.49 L1230.09 1763.5 L1231.91 1766.34 L1233.74 1768.99 L1235.56 1771.48 L1237.38 1773.8 L1239.2 1775.97 L1241.02 1777.99 L1242.84 1779.86 L1244.66 1781.61 L1246.48 1783.23 L1248.3 1784.73 L1250.12 1786.12 L1251.95 1787.4 L1253.77 1788.59 L1255.59 1789.68 L1257.41 1790.7 L1259.23 1791.63 L1261.05 1792.49 L1262.87 1793.28 L1264.69 1794.01 L1266.51 1794.68 L1268.34 1795.3 L1270.16 1795.86 L1271.98 1796.38 L1273.8 1796.86 L1275.62 1797.3 L1277.44 1797.7 L1279.26 1798.07 L1281.08 1798.41 L1282.9 1798.72 L1284.72 1799.01 L1286.55 1799.27 L1288.37 1799.51 L1290.19 1799.73 L1292.01 1799.93 L1293.83 1800.11 L1295.65 1800.28 L1297.47 1800.44 L1299.29 1800.58 L1301.11 1800.71 L1302.93 1800.83 L1304.76 1800.94 L1306.58 1801.04 L1308.4 1801.13 L1310.22 1801.21 L1312.04 1801.29 L1313.86 1801.36 L1315.68 1801.42 L1317.5 1801.48 L1319.32 1801.53 L1321.14 1801.58 L1322.96 1801.63 L1324.79 1801.67 L1326.61 1801.71 L1328.43 1801.74 L1330.25 1801.77 L1332.07 1801.8 L1333.89 1801.83 L1335.71 1801.85 L1337.53 1801.87 L1339.35 1801.9 L1341.17 1801.91 L1343 1801.93 L1344.82 1801.95 L1346.64 1801.96 L1348.46 1801.97 L1350.28 1801.98 L1352.1 1802 L1353.92 1802.01 L1355.74 1802.01 L1357.56 1802.02 L1359.38 1802.03 L1361.21 1802.04 L1363.03 1802.04 L1364.85 1802.05 L1366.67 1802.06 L1368.49 1802.06 L1370.31 1802.06 L1372.13 1802.07 L1373.95 1802.07 L1375.77 1802.08 L1377.6 1802.08 L1379.42 1802.08 L1381.24 1802.08 L1383.06 1802.09 L1384.88 1802.09 L1386.7 1802.09 L1388.52 1802.09 L1390.34 1802.09 L1392.16 1802.1 L1393.98 1802.1 L1395.8 1802.1 L1397.63 1802.1 L1399.45 1802.1 L1401.27 1802.1 L1403.09 1802.1 L1404.91 1802.1 L1406.73 1802.1 L1408.55 1802.1 L1410.37 1802.11 L1412.19 1802.11 L1414.01 1802.11 L1415.84 1802.11 L1417.66 1802.11 L1419.48 1802.11 L1421.3 1802.11 L1423.12 1802.11 L1424.94 1802.11 L1426.76 1802.11 L1428.58 1802.11 L1430.4 1802.11 L1432.22 1802.11 L1434.05 1802.11 L1435.87 1802.11 L1437.69 1802.11 L1439.51 1802.11 L1441.33 1802.11 L1443.15 1802.11 L1444.97 1802.11 L1446.79 1802.11 L1448.61 1802.11 L1450.43 1802.11 L1452.26 1802.11 L1454.08 1802.11 L1455.9 1802.11 L1457.72 1802.11 L1459.54 1802.11 L1461.36 1802.11 L1463.18 1802.11 L1465 1802.11 L1466.82 1802.11 L1468.64 1802.11 L1470.47 1802.11 L1472.29 1802.11 L1474.11 1802.11 L1475.93 1802.11 L1477.75 1802.11 L1479.57 1802.11 L1481.39 1802.11 L1483.21 1802.11 L1485.03 1802.11 L1486.86 1802.11 L1488.68 1802.11 L1490.5 1802.11 L1492.32 1802.11 L1494.14 1802.11 L1495.96 1802.11 L1497.78 1802.11 L1499.6 1802.11 L1501.42 1802.11 L1503.24 1802.11 L1505.07 1802.11 L1506.89 1802.11 L1508.71 1802.11 L1510.53 1802.11 L1512.35 1802.11 L1514.17 1802.11 L1515.99 1802.11 L1517.81 1802.11 L1519.63 1802.11 L1521.45 1802.11 L1523.27 1802.11 L1525.1 1802.11 L1526.92 1802.11 L1528.74 1802.11 L1530.56 1802.11 L1532.38 1802.11 L1534.2 1802.11 L1536.02 1802.11 L1537.84 1802.11 L1539.66 1802.11 L1541.48 1802.11 L1543.31 1802.11 L1545.13 1802.11 L1546.95 1802.11 L1548.77 1802.11 L1550.59 1802.11 L1552.41 1802.11 L1554.23 1802.11 L1556.05 1802.11 L1557.87 1802.11 L1559.69 1802.11 L1561.52 1802.11 L1563.34 1802.11 L1565.16 1802.11 L1566.98 1802.11 L1568.8 1802.11" fill="none" stroke="#de5c27" stroke-width="5.4" stroke-linejoin="round" stroke-linecap="round"/>
<path d="M1022.5 1544.48 L1024.32 1544.48 L1026.14 1544.48 L1027.96 1544.48 L1029.78 1544.48 L1031.61 1544.48 L1033.43 1544.48 L1035.25 1544.48 L1037.07 1544.48 L1038.89 1544.48 L1040.71 1544.48 L1042.53 1544.48 L1044.35 1544.48 L1046.17 1544.48 L1047.99 1544.48 L1049.82 1544.48 L1051.64 1544.48 L1053.46 1544.48 L1055.28 1544.48 L1057.1 1544.48 L1058.92 1544.48 L1060.74 1544.48 L1062.56 1544.48 L1064.38 1544.48 L1066.2 1544.48 L1068.03 1544.48 L1069.85 1544.48 L1071.67 1544.48 L1073.49 1544.48 L1075.31 1544.48 L1077.13 1544.48 L1078.95 1544.48 L1080.77 1544.48 L1082.59 1544.48 L1084.41 1544.48 L1086.24 1544.48 L1088.06 1544.48 L1089.88 1544.48 L1091.7 1544.48 L1093.52 1544.48 L1095.34 1544.48 L1097.16 1544.48 L1098.98 1544.48 L1100.8 1544.48 L1102.62 1544.48 L1104.44 1544.48 L1106.27 1544.48 L1108.09 1544.48 L1109.91 1544.48 L1111.73 1544.48 L1113.55 1544.48 L1115.37 1544.48 L1117.19 1544.48 L1119.01 1544.48 L1120.83 1544.48 L1122.65 1544.48 L1124.48 1544.48 L1126.3 1544.48 L1128.12 1544.48 L1129.94 1544.48 L1131.76 1544.48 L1133.58 1544.48 L1135.4 1544.48 L1137.22 1544.48 L1139.04 1544.48 L1140.87 1544.48 L1142.69 1544.48 L1144.51 1544.48 L1146.33 1544.48 L1148.15 1544.48 L1149.97 1544.48 L1151.79 1544.48 L1153.61 1544.48 L1155.43 1544.48 L1157.25 1544.48 L1159.08 1544.48 L1160.9 1544.48 L1162.72 1544.48 L1164.54 1544.48 L1166.36 1544.48 L1168.18 1544.48 L1170 1544.48 L1171.82 1544.48 L1173.64 1544.48 L1175.46 1544.48 L1177.29 1544.48 L1179.11 1544.48 L1180.93 1544.48 L1182.75 1544.48 L1184.57 1544.48 L1186.39 1544.48 L1188.21 1544.48 L1190.03 1544.48 L1191.85 1544.48 L1193.67 1544.48 L1195.49 1544.48 L1197.32 1544.48 L1199.14 1544.48 L1200.96 1544.48 L1202.78 1544.48 L1204.6 1544.48 L1206.42 1544.48 L1208.24 1544.48 L1210.06 1544.48 L1211.88 1544.48 L1213.7 1544.48 L1215.53 1544.48 L1217.35 1544.48 L1219.17 1544.48 L1220.99 1544.48 L1222.81 1544.48 L1224.63 1544.48 L1226.45 1544.48 L1228.27 1544.48 L1230.09 1544.48 L1231.91 1544.48 L1233.74 1544.48 L1235.56 1544.48 L1237.38 1544.48 L1239.2 1544.48 L1241.02 1544.48 L1242.84 1544.48 L1244.66 1544.48 L1246.48 1544.48 L1248.3 1544.48 L1250.12 1544.48 L1251.95 1544.48 L1253.77 1544.48 L1255.59 1544.48 L1257.41 1544.48 L1259.23 1544.48 L1261.05 1544.48 L1262.87 1544.48 L1264.69 1544.48 L1266.51 1544.48 L1268.34 1544.48 L1270.16 1544.48 L1271.98 1544.48 L1273.8 1544.48 L1275.62 1544.48 L1277.44 1544.48 L1279.26 1544.48 L1281.08 1544.48 L1282.9 1544.48 L1284.72 1544.48 L1286.55 1544.48 L1288.37 1544.48 L1290.19 1544.48 L1292.01 1544.48 L1293.83 1544.48 L1295.65 1544.48 L1297.47 1544.48 L1299.29 1544.48 L1301.11 1544.48 L1302.93 1544.48 L1304.76 1544.48 L1306.58 1544.48 L1308.4 1544.48 L1310.22 1544.48 L1312.04 1544.48 L1313.86 1544.48 L1315.68 1544.48 L1317.5 1544.48 L1319.32 1544.49 L1321.14 1544.49 L1322.96 1544.49 L1324.79 1544.49 L1326.61 1544.49 L1328.43 1544.49 L1330.25 1544.49 L1332.07 1544.49 L1333.89 1544.49 L1335.71 1544.49 L1337.53 1544.49 L1339.35 1544.49 L1341.17 1544.49 L1343 1544.49 L1344.82 1544.49 L1346.64 1544.49 L1348.46 1544.5 L1350.28 1544.5 L1352.1 1544.5 L1353.92 1544.5 L1355.74 1544.5 L1357.56 1544.5 L1359.38 1544.51 L1361.21 1544.51 L1363.03 1544.51 L1364.85 1544.51 L1366.67 1544.52 L1368.49 1544.52 L1370.31 1544.52 L1372.13 1544.53 L1373.95 1544.53 L1375.77 1544.54 L1377.6 1544.54 L1379.42 1544.55 L1381.24 1544.56 L1383.06 1544.56 L1384.88 1544.57 L1386.7 1544.58 L1388.52 1544.59 L1390.34 1544.6 L1392.16 1544.61 L1393.98 1544.62 L1395.8 1544.64 L1397.63 1544.65 L1399.45 1544.67 L1401.27 1544.69 L1403.09 1544.71 L1404.91 1544.73 L1406.73 1544.75 L1408.55 1544.78 L1410.37 1544.81 L1412.19 1544.84 L1414.01 1544.88 L1415.84 1544.92 L1417.66 1544.96 L1419.48 1545.01 L1421.3 1545.06 L1423.12 1545.11 L1424.94 1545.18 L1426.76 1545.24 L1428.58 1545.32 L1430.4 1545.4 L1432.22 1545.49 L1434.05 1545.59 L1435.87 1545.7 L1437.69 1545.82 L1439.51 1545.95 L1441.33 1546.09 L1443.15 1546.25 L1444.97 1546.42 L1446.79 1546.61 L1448.61 1546.81 L1450.43 1547.04 L1452.26 1547.29 L1454.08 1547.56 L1455.9 1547.86 L1457.72 1548.19 L1459.54 1548.55 L1461.36 1548.94 L1463.18 1549.37 L1465 1549.84 L1466.82 1550.35 L1468.64 1550.91 L1470.47 1551.52 L1472.29 1552.2 L1474.11 1552.93 L1475.93 1553.73 L1477.75 1554.6 L1479.57 1555.55 L1481.39 1556.59 L1483.21 1557.71 L1485.03 1558.94 L1486.86 1560.27 L1488.68 1561.72 L1490.5 1563.29 L1492.32 1564.99 L1494.14 1566.83 L1495.96 1568.82 L1497.78 1570.96 L1499.6 1573.27 L1501.42 1575.76 L1503.24 1578.43 L1505.07 1581.29 L1506.89 1584.35 L1508.71 1587.61 L1510.53 1591.08 L1512.35 1594.77 L1514.17 1598.67 L1515.99 1602.8 L1517.81 1607.14 L1519.63 1611.69 L1521.45 1616.46 L1523.27 1621.43 L1525.1 1626.59 L1526.92 1631.94 L1528.74 1637.44 L1530.56 1643.1 L1532.38 1648.88 L1534.2 1654.77 L1536.02 1660.75 L1537.84 1666.78 L1539.66 1672.84 L1541.48 1678.91 L1543.31 1684.96 L1545.13 1690.96 L1546.95 1696.89 L1548.77 1702.73 L1550.59 1708.44 L1552.41 1714.02 L1554.23 1719.43 L1556.05 1724.68 L1557.87 1729.73 L1559.69 1734.59 L1561.52 1739.24 L1563.34 1743.67 L1565.16 1747.89 L1566.98 1751.89 L1568.8 1755.67" fill="none" stroke="#000" stroke-width="5.4" stroke-linejoin="round" stroke-linecap="round"/>
<path d="M1075.44 1532.01 V1551.96 M1066.94 1532.01 H1083.94 M1066.94 1551.96 H1083.94" fill="none" stroke="#1b733a" stroke-width="1.9"/>
<path d="M1022.5 1532.79 L1031.1 1548.59 L1013.9 1548.59Z" fill="#1b733a"/>
<path d="M1075.44 1532.79 L1084.04 1548.59 L1066.84 1548.59Z" fill="#1b733a"/>
<path d="M1116.56 1585.16 L1125.16 1600.96 L1107.96 1600.96Z" fill="#1b733a"/>
<path d="M1157.67 1567.7 L1166.27 1583.5 L1149.07 1583.5Z" fill="#1b733a"/>
<path d="M1198.78 1679.93 L1207.38 1695.73 L1190.18 1695.73Z" fill="#1b733a"/>
<path d="M1239.89 1743.78 L1248.49 1759.58 L1231.29 1759.58Z" fill="#1b733a"/>
<path d="M1486.57 1780.44 L1495.17 1796.24 L1477.97 1796.24Z" fill="#1b733a"/>
<path d="M1568.8 1794.66 L1577.4 1810.46 L1560.2 1810.46Z" fill="#1b733a"/>
<path d="M1022.5 1527.02 V1551.96 M1014 1527.02 H1031 M1014 1551.96 H1031" fill="none" stroke="#0f5794" stroke-width="1.9"/>
<path d="M1075.44 1577.65 V1605.09 M1066.94 1577.65 H1083.94 M1066.94 1605.09 H1083.94" fill="none" stroke="#0f5794" stroke-width="1.9"/>
<path d="M1116.56 1622.29 V1642.25 M1108.06 1622.29 H1125.06 M1108.06 1642.25 H1125.06" fill="none" stroke="#0f5794" stroke-width="1.9"/>
<path d="M1022.5 1530.89 L1031.1 1539.49 L1022.5 1548.09 L1013.9 1539.49Z" fill="#0f5794"/>
<path d="M1075.44 1582.77 L1084.04 1591.37 L1075.44 1599.97 L1066.84 1591.37Z" fill="#0f5794"/>
<path d="M1116.56 1623.67 L1125.16 1632.27 L1116.56 1640.87 L1107.96 1632.27Z" fill="#0f5794"/>
<path d="M1157.67 1651.85 L1166.27 1660.45 L1157.67 1669.05 L1149.07 1660.45Z" fill="#0f5794"/>
<path d="M1198.78 1723.93 L1207.38 1732.53 L1198.78 1741.13 L1190.18 1732.53Z" fill="#0f5794"/>
<path d="M1239.89 1795.26 L1248.49 1803.86 L1239.89 1812.46 L1231.29 1803.86Z" fill="#0f5794"/>
<path d="M1445.46 1789.27 L1454.06 1797.87 L1445.46 1806.47 L1436.86 1797.87Z" fill="#0f5794"/>
<path d="M1022.5 1514.55 V1559.45 M1014 1514.55 H1031 M1014 1559.45 H1031" fill="none" stroke="#de5c27" stroke-width="1.9"/>
<path d="M1075.44 1515.8 V1546.73 M1066.94 1515.8 H1083.94 M1066.94 1546.73 H1083.94" fill="none" stroke="#de5c27" stroke-width="1.9"/>
<path d="M1116.56 1556.95 V1586.88 M1108.06 1556.95 H1125.06 M1108.06 1586.88 H1125.06" fill="none" stroke="#de5c27" stroke-width="1.9"/>
<path d="M1157.67 1573.41 V1603.34 M1149.17 1573.41 H1166.17 M1149.17 1603.34 H1166.17" fill="none" stroke="#de5c27" stroke-width="1.9"/>
<path d="M1198.78 1674.67 V1691.63 M1190.28 1674.67 H1207.28 M1190.28 1691.63 H1207.28" fill="none" stroke="#de5c27" stroke-width="1.9"/>
<rect x="1016.4" y="1530.9" width="12.2" height="12.2" fill="#de5c27"/>
<rect x="1069.34" y="1525.16" width="12.2" height="12.2" fill="#de5c27"/>
<rect x="1110.46" y="1565.82" width="12.2" height="12.2" fill="#de5c27"/>
<rect x="1151.57" y="1582.28" width="12.2" height="12.2" fill="#de5c27"/>
<rect x="1192.68" y="1677.05" width="12.2" height="12.2" fill="#de5c27"/>
<rect x="1233.79" y="1777.81" width="12.2" height="12.2" fill="#de5c27"/>
<rect x="1316.02" y="1796.01" width="12.2" height="12.2" fill="#de5c27"/>
<rect x="1357.13" y="1793.52" width="12.2" height="12.2" fill="#de5c27"/>
<rect x="1398.25" y="1796.01" width="12.2" height="12.2" fill="#de5c27"/>
<rect x="1439.36" y="1783.04" width="12.2" height="12.2" fill="#de5c27"/>
<rect x="1480.47" y="1792.27" width="12.2" height="12.2" fill="#de5c27"/>
<rect x="1521.59" y="1796.01" width="12.2" height="12.2" fill="#de5c27"/>
<path d="M1022.5 1524.53 V1549.47 M1014 1524.53 H1031 M1014 1549.47 H1031" fill="none" stroke="#000" stroke-width="1.9"/>
<path d="M1075.44 1557.2 V1587.13 M1066.94 1557.2 H1083.94 M1066.94 1587.13 H1083.94" fill="none" stroke="#000" stroke-width="1.9"/>
<path d="M1116.56 1557.95 V1577.9 M1108.06 1557.95 H1125.06 M1108.06 1577.9 H1125.06" fill="none" stroke="#000" stroke-width="1.9"/>
<path d="M1157.67 1537.75 V1562.69 M1149.17 1537.75 H1166.17 M1149.17 1562.69 H1166.17" fill="none" stroke="#000" stroke-width="1.9"/>
<path d="M1198.78 1521.29 V1548.22 M1190.28 1521.29 H1207.28 M1190.28 1548.22 H1207.28" fill="none" stroke="#000" stroke-width="1.9"/>
<path d="M1239.89 1536 V1558.45 M1231.39 1536 H1248.39 M1231.39 1558.45 H1248.39" fill="none" stroke="#000" stroke-width="1.9"/>
<path d="M1281.01 1521.29 V1543.24 M1272.51 1521.29 H1289.51 M1272.51 1543.24 H1289.51" fill="none" stroke="#000" stroke-width="1.9"/>
<path d="M1322.12 1520.29 V1542.24 M1313.62 1520.29 H1330.62 M1313.62 1542.24 H1330.62" fill="none" stroke="#000" stroke-width="1.9"/>
<path d="M1363.23 1528.52 V1549.47 M1354.73 1528.52 H1371.73 M1354.73 1549.47 H1371.73" fill="none" stroke="#000" stroke-width="1.9"/>
<path d="M1445.46 1515.05 V1542.49 M1436.96 1515.05 H1453.96 M1436.96 1542.49 H1453.96" fill="none" stroke="#000" stroke-width="1.9"/>
<path d="M1486.57 1552.71 V1575.66 M1478.07 1552.71 H1495.07 M1478.07 1575.66 H1495.07" fill="none" stroke="#000" stroke-width="1.9"/>
<circle cx="1022.5" cy="1537" r="7.5" fill="#000"/>
<circle cx="1075.44" cy="1572.17" r="7.5" fill="#000"/>
<circle cx="1116.56" cy="1567.93" r="7.5" fill="#000"/>
<circle cx="1157.67" cy="1550.22" r="7.5" fill="#000"/>
<circle cx="1198.78" cy="1534.76" r="7.5" fill="#000"/>
<circle cx="1239.89" cy="1547.23" r="7.5" fill="#000"/>
<circle cx="1281.01" cy="1532.26" r="7.5" fill="#000"/>
<circle cx="1322.12" cy="1531.26" r="7.5" fill="#000"/>
<circle cx="1363.23" cy="1539" r="7.5" fill="#000"/>
<circle cx="1445.46" cy="1528.77" r="7.5" fill="#000"/>
<circle cx="1486.57" cy="1564.18" r="7.5" fill="#000"/>
<circle cx="1527.69" cy="1634.27" r="7.5" fill="#000"/>
<circle cx="1568.8" cy="1756.47" r="7.5" fill="#000"/>
<path d="M598.1 1987.35 H610.1 V2391.6" fill="none" stroke="#000" stroke-width="4.6"/>
<line x1="610.1" y1="2379.6" x2="1158.1" y2="2379.6" stroke="#000" stroke-width="4.6"/>
<line x1="598.1" y1="2379.6" x2="610.1" y2="2379.6" stroke="#000" stroke-width="4.6"/>
<line x1="598.1" y1="2248.85" x2="610.1" y2="2248.85" stroke="#000" stroke-width="4.6"/>
<line x1="598.1" y1="2118.1" x2="610.1" y2="2118.1" stroke="#000" stroke-width="4.6"/>
<text x="596.9" y="2390.1" font-size="29.5" font-weight="bold" text-anchor="end">0</text>
<text x="596.9" y="2259.35" font-size="29.5" font-weight="bold" text-anchor="end">50</text>
<text x="596.9" y="2128.6" font-size="29.5" font-weight="bold" text-anchor="end">100</text>
<text x="596.9" y="1997.85" font-size="29.5" font-weight="bold" text-anchor="end">150</text>
<text x="610.1" y="2422.6" font-size="29.5" font-weight="bold" text-anchor="middle">0.1</text>
<line x1="651.17" y1="2379.6" x2="651.17" y2="2387.8" stroke="#000" stroke-width="4.3"/>
<line x1="675.19" y1="2379.6" x2="675.19" y2="2387.8" stroke="#000" stroke-width="4.3"/>
<line x1="692.24" y1="2379.6" x2="692.24" y2="2387.8" stroke="#000" stroke-width="4.3"/>
<line x1="705.46" y1="2379.6" x2="705.46" y2="2387.8" stroke="#000" stroke-width="4.3"/>
<line x1="716.26" y1="2379.6" x2="716.26" y2="2387.8" stroke="#000" stroke-width="4.3"/>
<line x1="725.39" y1="2379.6" x2="725.39" y2="2387.8" stroke="#000" stroke-width="4.3"/>
<line x1="733.3" y1="2379.6" x2="733.3" y2="2387.8" stroke="#000" stroke-width="4.3"/>
<line x1="740.28" y1="2379.6" x2="740.28" y2="2387.8" stroke="#000" stroke-width="4.3"/>
<line x1="746.52" y1="2379.6" x2="746.52" y2="2391.6" stroke="#000" stroke-width="4.6"/>
<text x="746.52" y="2422.6" font-size="29.5" font-weight="bold" text-anchor="middle">1</text>
<line x1="787.59" y1="2379.6" x2="787.59" y2="2387.8" stroke="#000" stroke-width="4.3"/>
<line x1="811.62" y1="2379.6" x2="811.62" y2="2387.8" stroke="#000" stroke-width="4.3"/>
<line x1="828.66" y1="2379.6" x2="828.66" y2="2387.8" stroke="#000" stroke-width="4.3"/>
<line x1="841.88" y1="2379.6" x2="841.88" y2="2387.8" stroke="#000" stroke-width="4.3"/>
<line x1="852.68" y1="2379.6" x2="852.68" y2="2387.8" stroke="#000" stroke-width="4.3"/>
<line x1="861.82" y1="2379.6" x2="861.82" y2="2387.8" stroke="#000" stroke-width="4.3"/>
<line x1="869.73" y1="2379.6" x2="869.73" y2="2387.8" stroke="#000" stroke-width="4.3"/>
<line x1="876.71" y1="2379.6" x2="876.71" y2="2387.8" stroke="#000" stroke-width="4.3"/>
<line x1="882.95" y1="2379.6" x2="882.95" y2="2391.6" stroke="#000" stroke-width="4.6"/>
<text x="882.95" y="2422.6" font-size="29.5" font-weight="bold" text-anchor="middle">10</text>
<line x1="924.02" y1="2379.6" x2="924.02" y2="2387.8" stroke="#000" stroke-width="4.3"/>
<line x1="948.04" y1="2379.6" x2="948.04" y2="2387.8" stroke="#000" stroke-width="4.3"/>
<line x1="965.09" y1="2379.6" x2="965.09" y2="2387.8" stroke="#000" stroke-width="4.3"/>
<line x1="978.31" y1="2379.6" x2="978.31" y2="2387.8" stroke="#000" stroke-width="4.3"/>
<line x1="989.11" y1="2379.6" x2="989.11" y2="2387.8" stroke="#000" stroke-width="4.3"/>
<line x1="998.24" y1="2379.6" x2="998.24" y2="2387.8" stroke="#000" stroke-width="4.3"/>
<line x1="1006.15" y1="2379.6" x2="1006.15" y2="2387.8" stroke="#000" stroke-width="4.3"/>
<line x1="1013.13" y1="2379.6" x2="1013.13" y2="2387.8" stroke="#000" stroke-width="4.3"/>
<line x1="1019.38" y1="2379.6" x2="1019.38" y2="2391.6" stroke="#000" stroke-width="4.6"/>
<text x="1019.38" y="2422.6" font-size="29.5" font-weight="bold" text-anchor="middle">100</text>
<line x1="1060.44" y1="2379.6" x2="1060.44" y2="2387.8" stroke="#000" stroke-width="4.3"/>
<line x1="1084.47" y1="2379.6" x2="1084.47" y2="2387.8" stroke="#000" stroke-width="4.3"/>
<line x1="1101.51" y1="2379.6" x2="1101.51" y2="2387.8" stroke="#000" stroke-width="4.3"/>
<line x1="1114.73" y1="2379.6" x2="1114.73" y2="2387.8" stroke="#000" stroke-width="4.3"/>
<line x1="1125.53" y1="2379.6" x2="1125.53" y2="2387.8" stroke="#000" stroke-width="4.3"/>
<line x1="1134.67" y1="2379.6" x2="1134.67" y2="2387.8" stroke="#000" stroke-width="4.3"/>
<line x1="1142.58" y1="2379.6" x2="1142.58" y2="2387.8" stroke="#000" stroke-width="4.3"/>
<line x1="1149.56" y1="2379.6" x2="1149.56" y2="2387.8" stroke="#000" stroke-width="4.3"/>
<line x1="1155.8" y1="2379.6" x2="1155.8" y2="2391.6" stroke="#000" stroke-width="4.6"/>
<text x="1155.8" y="2422.6" font-size="29.5" font-weight="bold" text-anchor="middle">1000</text>
<text x="882.5" y="2461" font-size="30.5" font-weight="bold" text-anchor="middle">Poziotinib Concentration (nM)</text>
<text transform="translate(540 2184) rotate(-90)" font-size="30.5" font-weight="bold" text-anchor="middle">&#37; Cell Viability</text>
<path d="M610.1 2131.71 L610.71 2131.83 L611.31 2131.95 L611.92 2132.08 L612.52 2132.21 L613.13 2132.34 L613.74 2132.47 L614.34 2132.6 L614.95 2132.74 L615.55 2132.88 L616.16 2133.02 L616.77 2133.16 L617.37 2133.3 L617.98 2133.45 L618.58 2133.6 L619.19 2133.76 L619.79 2133.91 L620.4 2134.07 L621.01 2134.23 L621.61 2134.39 L622.22 2134.56 L622.82 2134.73 L623.43 2134.9 L624.04 2135.07 L624.64 2135.25 L625.25 2135.43 L625.85 2135.61 L626.46 2135.8 L627.07 2135.99 L627.67 2136.18 L628.28 2136.37 L628.88 2136.57 L629.49 2136.77 L630.1 2136.98 L630.7 2137.18 L631.31 2137.4 L631.91 2137.61 L632.52 2137.83 L633.13 2138.05 L633.73 2138.28 L634.34 2138.5 L634.94 2138.74 L635.55 2138.97 L636.15 2139.21 L636.76 2139.46 L637.37 2139.7 L637.97 2139.96 L638.58 2140.21 L639.18 2140.47 L639.79 2140.74 L640.4 2141 L641 2141.28 L641.61 2141.55 L642.21 2141.83 L642.82 2142.12 L643.43 2142.41 L644.03 2142.7 L644.64 2143 L645.24 2143.3 L645.85 2143.61 L646.46 2143.92 L647.06 2144.24 L647.67 2144.56 L648.27 2144.89 L648.88 2145.22 L649.49 2145.56 L650.09 2145.9 L650.7 2146.25 L651.3 2146.6 L651.91 2146.96 L652.51 2147.33 L653.12 2147.7 L653.73 2148.07 L654.33 2148.45 L654.94 2148.84 L655.54 2149.23 L656.15 2149.63 L656.76 2150.03 L657.36 2150.44 L657.97 2150.86 L658.57 2151.28 L659.18 2151.7 L659.79 2152.14 L660.39 2152.58 L661 2153.03 L661.6 2153.48 L662.21 2153.94 L662.82 2154.4 L663.42 2154.88 L664.03 2155.36 L664.63 2155.84 L665.24 2156.34 L665.85 2156.84 L666.45 2157.34 L667.06 2157.86 L667.66 2158.38 L668.27 2158.91 L668.87 2159.44 L669.48 2159.98 L670.09 2160.54 L670.69 2161.09 L671.3 2161.66 L671.9 2162.23 L672.51 2162.81 L673.12 2163.4 L673.72 2164 L674.33 2164.6 L674.93 2165.21 L675.54 2165.83 L676.15 2166.46 L676.75 2167.1 L677.36 2167.74 L677.96 2168.4 L678.57 2169.06 L679.18 2169.73 L679.78 2170.4 L680.39 2171.09 L680.99 2171.78 L681.6 2172.49 L682.21 2173.2 L682.81 2173.92 L683.42 2174.65 L684.02 2175.39 L684.63 2176.13 L685.23 2176.89 L685.84 2177.66 L686.45 2178.43 L687.05 2179.21 L687.66 2180 L688.26 2180.8 L688.87 2181.61 L689.48 2182.43 L690.08 2183.26 L690.69 2184.1 L691.29 2184.94 L691.9 2185.8 L692.51 2186.67 L693.11 2187.54 L693.72 2188.42 L694.32 2189.32 L694.93 2190.22 L695.54 2191.13 L696.14 2192.05 L696.75 2192.98 L697.35 2193.92 L697.96 2194.87 L698.57 2195.83 L699.17 2196.79 L699.78 2197.77 L700.38 2198.76 L700.99 2199.75 L701.59 2200.75 L702.2 2201.77 L702.81 2202.79 L703.41 2203.82 L704.02 2204.86 L704.62 2205.91 L705.23 2206.97 L705.84 2208.04 L706.44 2209.12 L707.05 2210.2 L707.65 2211.3 L708.26 2212.4 L708.87 2213.51 L709.47 2214.63 L710.08 2215.76 L710.68 2216.9 L711.29 2218.05 L711.9 2219.2 L712.5 2220.37 L713.11 2221.54 L713.71 2222.72 L714.32 2223.9 L714.93 2225.1 L715.53 2226.3 L716.14 2227.51 L716.74 2228.73 L717.35 2229.95 L717.95 2231.19 L718.56 2232.43 L719.17 2233.67 L719.77 2234.93 L720.38 2236.19 L720.98 2237.46 L721.59 2238.73 L722.2 2240.01 L722.8 2241.3 L723.41 2242.59 L724.01 2243.89 L724.62 2245.19 L725.23 2246.5 L725.83 2247.82 L726.44 2249.14 L727.04 2250.46 L727.65 2251.79 L728.26 2253.13 L728.86 2254.47 L729.47 2255.81 L730.07 2257.16 L730.68 2258.52 L731.29 2259.87 L731.89 2261.23 L732.5 2262.6 L733.1 2263.96 L733.71 2265.33 L734.31 2266.71 L734.92 2268.08 L735.53 2269.46 L736.13 2270.84 L736.74 2272.22 L737.34 2273.61 L737.95 2275 L738.56 2276.38 L739.16 2277.77 L739.77 2279.16 L740.37 2280.55 L740.98 2281.95 L741.59 2283.34 L742.19 2284.73 L742.8 2286.12 L743.4 2287.51 L744.01 2288.91 L744.62 2290.3 L745.22 2291.69 L745.83 2293.08 L746.43 2294.46 L747.04 2295.85 L747.65 2297.24 L748.25 2298.62 L748.86 2300 L749.46 2301.38 L750.07 2302.75 L750.67 2304.13 L751.28 2305.5 L751.89 2306.87 L752.49 2308.23 L753.1 2309.59 L753.7 2310.95 L754.31 2312.3 L754.92 2313.65 L755.52 2315 L756.13 2316.34 L756.73 2317.67 L757.34 2319 L757.95 2320.33 L758.55 2321.65 L759.16 2322.97 L759.76 2324.28 L760.37 2325.58 L760.98 2326.88 L761.58 2328.17 L762.19 2329.46 L762.79 2330.74 L763.4 2332.02 L764.01 2333.29 L764.61 2334.55 L765.22 2335.8 L765.82 2337.05 L766.43 2338.29 L767.03 2339.52 L767.64 2340.75 L768.25 2341.97 L768.85 2343.18 L769.46 2344.38 L770.06 2345.58 L770.67 2346.77 L771.28 2347.95 L771.88 2349.12 L772.49 2350.28 L773.09 2351.44 L773.7 2352.58 L774.31 2353.72 L774.91 2354.85 L775.52 2355.98 L776.12 2357.09 L776.73 2358.19 L777.34 2359.29 L777.94 2360.38 L778.55 2361.45 L779.15 2362.52 L779.76 2363.58 L780.37 2364.63 L780.97 2365.68 L781.58 2366.71 L782.18 2367.73 L782.79 2368.75 L783.39 2369.75 L784 2370.75 L784.61 2371.73 L785.21 2372.71 L785.82 2373.68 L786.42 2374.64 L787.03 2375.59 L787.64 2376.53 L788.24 2377.46 L788.85 2378.38 L789.45 2379.29 L790.06 2380.2 L790.67 2381.09 L791.27 2381.98 L791.88 2382.85" fill="none" stroke="#1b733a" stroke-width="5.4" stroke-linejoin="round" stroke-linecap="round"/>
<path d="M610.1 2087.21 L611.92 2087.25 L613.74 2087.29 L615.56 2087.33 L617.38 2087.37 L619.2 2087.42 L621.01 2087.47 L622.83 2087.53 L624.65 2087.59 L626.47 2087.65 L628.29 2087.72 L630.11 2087.79 L631.93 2087.87 L633.75 2087.95 L635.57 2088.04 L637.38 2088.14 L639.2 2088.24 L641.02 2088.35 L642.84 2088.47 L644.66 2088.6 L646.48 2088.74 L648.3 2088.88 L650.12 2089.04 L651.94 2089.21 L653.76 2089.39 L655.58 2089.58 L657.39 2089.79 L659.21 2090.01 L661.03 2090.25 L662.85 2090.5 L664.67 2090.77 L666.49 2091.06 L668.31 2091.38 L670.13 2091.71 L671.95 2092.07 L673.76 2092.45 L675.58 2092.86 L677.4 2093.3 L679.22 2093.77 L681.04 2094.27 L682.86 2094.81 L684.68 2095.38 L686.5 2095.99 L688.32 2096.64 L690.14 2097.34 L691.96 2098.09 L693.77 2098.88 L695.59 2099.73 L697.41 2100.63 L699.23 2101.59 L701.05 2102.61 L702.87 2103.7 L704.69 2104.86 L706.51 2106.1 L708.33 2107.41 L710.14 2108.8 L711.96 2110.27 L713.78 2111.83 L715.6 2113.49 L717.42 2115.24 L719.24 2117.09 L721.06 2119.05 L722.88 2121.11 L724.7 2123.29 L726.52 2125.58 L728.34 2127.99 L730.15 2130.52 L731.97 2133.17 L733.79 2135.95 L735.61 2138.86 L737.43 2141.9 L739.25 2145.06 L741.07 2148.36 L742.89 2151.79 L744.71 2155.34 L746.52 2159.02 L748.34 2162.82 L750.16 2166.74 L751.98 2170.77 L753.8 2174.91 L755.62 2179.16 L757.44 2183.5 L759.26 2187.93 L761.08 2192.44 L762.9 2197.02 L764.72 2201.66 L766.53 2206.35 L768.35 2211.08 L770.17 2215.83 L771.99 2220.6 L773.81 2225.38 L775.63 2230.14 L777.45 2234.88 L779.27 2239.59 L781.09 2244.26 L782.9 2248.88 L784.72 2253.43 L786.54 2257.9 L788.36 2262.29 L790.18 2266.59 L792 2270.8 L793.82 2274.89 L795.64 2278.87 L797.46 2282.74 L799.28 2286.49 L801.1 2290.11 L802.91 2293.6 L804.73 2296.97 L806.55 2300.21 L808.37 2303.32 L810.19 2306.29 L812.01 2309.14 L813.83 2311.87 L815.65 2314.46 L817.47 2316.94 L819.28 2319.3 L821.1 2321.54 L822.92 2323.66 L824.74 2325.68 L826.56 2327.59 L828.38 2329.39 L830.2 2331.1 L832.02 2332.71 L833.84 2334.24 L835.66 2335.67 L837.48 2337.02 L839.29 2338.3 L841.11 2339.5 L842.93 2340.63 L844.75 2341.69 L846.57 2342.68 L848.39 2343.62 L850.21 2344.49 L852.03 2345.32 L853.85 2346.09 L855.66 2346.81 L857.48 2347.49 L859.3 2348.12 L861.12 2348.72 L862.94 2349.27 L864.76 2349.79 L866.58 2350.28 L868.4 2350.73 L870.22 2351.16 L872.04 2351.56 L873.86 2351.93 L875.67 2352.27 L877.49 2352.6 L879.31 2352.9 L881.13 2353.18 L882.95 2353.45 L884.77 2353.69 L886.59 2353.92 L888.41 2354.14 L890.23 2354.34 L892.05 2354.53 L893.86 2354.7 L895.68 2354.86 L897.5 2355.02 L899.32 2355.16 L901.14 2355.29 L902.96 2355.41 L904.78 2355.53 L906.6 2355.64 L908.42 2355.74 L910.24 2355.83 L912.05 2355.92 L913.87 2356 L915.69 2356.07 L917.51 2356.14 L919.33 2356.21 L921.15 2356.27 L922.97 2356.33 L924.79 2356.38 L926.61 2356.43 L928.42 2356.48 L930.24 2356.52 L932.06 2356.56 L933.88 2356.6 L935.7 2356.63 L937.52 2356.67 L939.34 2356.7 L941.16 2356.72 L942.98 2356.75 L944.8 2356.77 L946.62 2356.8 L948.43 2356.82 L950.25 2356.84 L952.07 2356.86 L953.89 2356.87 L955.71 2356.89 L957.53 2356.91 L959.35 2356.92 L961.17 2356.93 L962.99 2356.94 L964.81 2356.96 L966.62 2356.97 L968.44 2356.98 L970.26 2356.99 L972.08 2356.99 L973.9 2357 L975.72 2357.01 L977.54 2357.02 L979.36 2357.02 L981.18 2357.03 L983 2357.03 L984.81 2357.04 L986.63 2357.04 L988.45 2357.05 L990.27 2357.05 L992.09 2357.06 L993.91 2357.06 L995.73 2357.06 L997.55 2357.07 L999.37 2357.07 L1001.18 2357.07 L1003 2357.08 L1004.82 2357.08 L1006.64 2357.08 L1008.46 2357.08 L1010.28 2357.08 L1012.1 2357.09 L1013.92 2357.09 L1015.74 2357.09 L1017.56 2357.09 L1019.38 2357.09 L1021.19 2357.09 L1023.01 2357.09 L1024.83 2357.1 L1026.65 2357.1 L1028.47 2357.1 L1030.29 2357.1 L1032.11 2357.1 L1033.93 2357.1 L1035.75 2357.1 L1037.57 2357.1 L1039.38 2357.1 L1041.2 2357.1 L1043.02 2357.1 L1044.84 2357.1 L1046.66 2357.1 L1048.48 2357.1 L1050.3 2357.11 L1052.12 2357.11 L1053.94 2357.11 L1055.75 2357.11 L1057.57 2357.11 L1059.39 2357.11 L1061.21 2357.11 L1063.03 2357.11 L1064.85 2357.11 L1066.67 2357.11 L1068.49 2357.11 L1070.31 2357.11 L1072.13 2357.11 L1073.94 2357.11 L1075.76 2357.11 L1077.58 2357.11 L1079.4 2357.11 L1081.22 2357.11 L1083.04 2357.11 L1084.86 2357.11 L1086.68 2357.11 L1088.5 2357.11 L1090.32 2357.11 L1092.13 2357.11 L1093.95 2357.11 L1095.77 2357.11 L1097.59 2357.11 L1099.41 2357.11 L1101.23 2357.11 L1103.05 2357.11 L1104.87 2357.11 L1106.69 2357.11 L1108.51 2357.11 L1110.32 2357.11 L1112.14 2357.11 L1113.96 2357.11 L1115.78 2357.11 L1117.6 2357.11 L1119.42 2357.11 L1121.24 2357.11 L1123.06 2357.11 L1124.88 2357.11 L1126.7 2357.11 L1128.51 2357.11 L1130.33 2357.11 L1132.15 2357.11 L1133.97 2357.11 L1135.79 2357.11 L1137.61 2357.11 L1139.43 2357.11 L1141.25 2357.11 L1143.07 2357.11 L1144.89 2357.11 L1146.7 2357.11 L1148.52 2357.11 L1150.34 2357.11 L1152.16 2357.11 L1153.98 2357.11 L1155.8 2357.11" fill="none" stroke="#0f5794" stroke-width="5.4" stroke-linejoin="round" stroke-linecap="round"/>
<path d="M610.1 2097.31 L611.92 2097.33 L613.74 2097.34 L615.56 2097.36 L617.38 2097.38 L619.2 2097.4 L621.01 2097.43 L622.83 2097.45 L624.65 2097.48 L626.47 2097.51 L628.29 2097.55 L630.11 2097.58 L631.93 2097.63 L633.75 2097.67 L635.57 2097.72 L637.38 2097.78 L639.2 2097.84 L641.02 2097.91 L642.84 2097.99 L644.66 2098.08 L646.48 2098.17 L648.3 2098.27 L650.12 2098.39 L651.94 2098.51 L653.76 2098.65 L655.58 2098.81 L657.39 2098.98 L659.21 2099.16 L661.03 2099.37 L662.85 2099.6 L664.67 2099.85 L666.49 2100.13 L668.31 2100.43 L670.13 2100.77 L671.95 2101.14 L673.76 2101.55 L675.58 2102 L677.4 2102.49 L679.22 2103.04 L681.04 2103.64 L682.86 2104.3 L684.68 2105.03 L686.5 2105.83 L688.32 2106.7 L690.14 2107.67 L691.96 2108.72 L693.77 2109.88 L695.59 2111.14 L697.41 2112.53 L699.23 2114.04 L701.05 2115.7 L702.87 2117.5 L704.69 2119.46 L706.51 2121.6 L708.33 2123.91 L710.14 2126.43 L711.96 2129.15 L713.78 2132.09 L715.6 2135.25 L717.42 2138.66 L719.24 2142.31 L721.06 2146.22 L722.88 2150.4 L724.7 2154.84 L726.52 2159.54 L728.34 2164.52 L730.15 2169.76 L731.97 2175.27 L733.79 2181.02 L735.61 2187.01 L737.43 2193.22 L739.25 2199.62 L741.07 2206.21 L742.89 2212.94 L744.71 2219.79 L746.52 2226.74 L748.34 2233.73 L750.16 2240.75 L751.98 2247.75 L753.8 2254.71 L755.62 2261.58 L757.44 2268.34 L759.26 2274.95 L761.08 2281.39 L762.9 2287.63 L764.72 2293.66 L766.53 2299.46 L768.35 2305.01 L770.17 2310.3 L771.99 2315.32 L773.81 2320.08 L775.63 2324.57 L777.45 2328.79 L779.27 2332.74 L781.09 2336.44 L782.9 2339.89 L784.72 2343.1 L786.54 2346.08 L788.36 2348.84 L790.18 2351.39 L792 2353.74 L793.82 2355.91 L795.64 2357.9 L797.46 2359.73 L799.28 2361.41 L801.1 2362.95 L802.91 2364.35 L804.73 2365.64 L806.55 2366.81 L808.37 2367.89 L810.19 2368.87 L812.01 2369.76 L813.83 2370.57 L815.65 2371.31 L817.47 2371.98 L819.28 2372.59 L821.1 2373.15 L822.92 2373.65 L824.74 2374.11 L826.56 2374.52 L828.38 2374.9 L830.2 2375.25 L832.02 2375.56 L833.84 2375.84 L835.66 2376.09 L837.48 2376.33 L839.29 2376.54 L841.11 2376.73 L842.93 2376.9 L844.75 2377.05 L846.57 2377.2 L848.39 2377.32 L850.21 2377.44 L852.03 2377.55 L853.85 2377.64 L855.66 2377.73 L857.48 2377.81 L859.3 2377.88 L861.12 2377.94 L862.94 2378 L864.76 2378.05 L866.58 2378.1 L868.4 2378.14 L870.22 2378.18 L872.04 2378.22 L873.86 2378.25 L875.67 2378.28 L877.49 2378.3 L879.31 2378.33 L881.13 2378.35 L882.95 2378.37 L884.77 2378.39 L886.59 2378.4 L888.41 2378.42 L890.23 2378.43 L892.05 2378.44 L893.86 2378.45 L895.68 2378.46 L897.5 2378.47 L899.32 2378.48 L901.14 2378.49 L902.96 2378.49 L904.78 2378.5 L906.6 2378.5 L908.42 2378.51 L910.24 2378.51 L912.05 2378.52 L913.87 2378.52 L915.69 2378.52 L917.51 2378.53 L919.33 2378.53 L921.15 2378.53 L922.97 2378.53 L924.79 2378.54 L926.61 2378.54 L928.42 2378.54 L930.24 2378.54 L932.06 2378.54 L933.88 2378.54 L935.7 2378.54 L937.52 2378.54 L939.34 2378.55 L941.16 2378.55 L942.98 2378.55 L944.8 2378.55 L946.62 2378.55 L948.43 2378.55 L950.25 2378.55 L952.07 2378.55 L953.89 2378.55 L955.71 2378.55 L957.53 2378.55 L959.35 2378.55 L961.17 2378.55 L962.99 2378.55 L964.81 2378.55 L966.62 2378.55 L968.44 2378.55 L970.26 2378.55 L972.08 2378.55 L973.9 2378.55 L975.72 2378.55 L977.54 2378.55 L979.36 2378.55 L981.18 2378.55 L983 2378.55 L984.81 2378.55 L986.63 2378.55 L988.45 2378.55 L990.27 2378.55 L992.09 2378.55 L993.91 2378.55 L995.73 2378.55 L997.55 2378.55 L999.37 2378.55 L1001.18 2378.55 L1003 2378.55 L1004.82 2378.55 L1006.64 2378.55 L1008.46 2378.55 L1010.28 2378.55 L1012.1 2378.55 L1013.92 2378.55 L1015.74 2378.55 L1017.56 2378.55 L1019.38 2378.55 L1021.19 2378.55 L1023.01 2378.55 L1024.83 2378.55 L1026.65 2378.55 L1028.47 2378.55 L1030.29 2378.55 L1032.11 2378.55 L1033.93 2378.55 L1035.75 2378.55 L1037.57 2378.55 L1039.38 2378.55 L1041.2 2378.55 L1043.02 2378.55 L1044.84 2378.55 L1046.66 2378.55 L1048.48 2378.55 L1050.3 2378.55 L1052.12 2378.55 L1053.94 2378.55 L1055.75 2378.55 L1057.57 2378.55 L1059.39 2378.55 L1061.21 2378.55 L1063.03 2378.55 L1064.85 2378.55 L1066.67 2378.55 L1068.49 2378.55 L1070.31 2378.55 L1072.13 2378.55 L1073.94 2378.55 L1075.76 2378.55 L1077.58 2378.55 L1079.4 2378.55 L1081.22 2378.55 L1083.04 2378.55 L1084.86 2378.55 L1086.68 2378.55 L1088.5 2378.55 L1090.32 2378.55 L1092.13 2378.55 L1093.95 2378.55 L1095.77 2378.55 L1097.59 2378.55 L1099.41 2378.55 L1101.23 2378.55 L1103.05 2378.55 L1104.87 2378.55 L1106.69 2378.55 L1108.51 2378.55 L1110.32 2378.55 L1112.14 2378.55 L1113.96 2378.55 L1115.78 2378.55 L1117.6 2378.55 L1119.42 2378.55 L1121.24 2378.55 L1123.06 2378.55 L1124.88 2378.55 L1126.7 2378.55 L1128.51 2378.55 L1130.33 2378.55 L1132.15 2378.55 L1133.97 2378.55 L1135.79 2378.55 L1137.61 2378.55 L1139.43 2378.55 L1141.25 2378.55 L1143.07 2378.55 L1144.89 2378.55 L1146.7 2378.55 L1148.52 2378.55 L1150.34 2378.55 L1152.16 2378.55 L1153.98 2378.55 L1155.8 2378.55" fill="none" stroke="#de5c27" stroke-width="5.4" stroke-linejoin="round" stroke-linecap="round"/>
<path d="M610.1 2093 L611.92 2093 L613.74 2093 L615.56 2093 L617.38 2093 L619.2 2093 L621.01 2093 L622.83 2093 L624.65 2093 L626.47 2093 L628.29 2093 L630.11 2093 L631.93 2093 L633.75 2093 L635.57 2093 L637.38 2093 L639.2 2093 L641.02 2093 L642.84 2093 L644.66 2093 L646.48 2093 L648.3 2093 L650.12 2093 L651.94 2093 L653.76 2093 L655.58 2093 L657.39 2093 L659.21 2093 L661.03 2093 L662.85 2093 L664.67 2093 L666.49 2093 L668.31 2093 L670.13 2093 L671.95 2093 L673.76 2093 L675.58 2093 L677.4 2093 L679.22 2093 L681.04 2093 L682.86 2093 L684.68 2093 L686.5 2093 L688.32 2093 L690.14 2093 L691.96 2093 L693.77 2093 L695.59 2093 L697.41 2093 L699.23 2093 L701.05 2093 L702.87 2093 L704.69 2093 L706.51 2093 L708.33 2093 L710.14 2093 L711.96 2093 L713.78 2093 L715.6 2093 L717.42 2093 L719.24 2093 L721.06 2093 L722.88 2093 L724.7 2093 L726.52 2093 L728.34 2093 L730.15 2093 L731.97 2093 L733.79 2093.01 L735.61 2093.04 L737.43 2093.14 L739.25 2093.46 L741.07 2094.43 L742.89 2096.67 L744.71 2099.78 L746.52 2102.02 L748.34 2102.99 L750.16 2103.32 L751.98 2103.41 L753.8 2103.44 L755.62 2103.45 L757.44 2103.45 L759.26 2103.46 L761.08 2103.46 L762.9 2103.46 L764.72 2103.46 L766.53 2103.46 L768.35 2103.46 L770.17 2103.46 L771.99 2103.46 L773.81 2103.46 L775.63 2103.46 L777.45 2103.46 L779.27 2103.46 L781.09 2103.46 L782.9 2103.46 L784.72 2103.46 L786.54 2103.46 L788.36 2103.46 L790.18 2103.46 L792 2103.46 L793.82 2103.46 L795.64 2103.46 L797.46 2103.46 L799.28 2103.46 L801.1 2103.46 L802.91 2103.46 L804.73 2103.46 L806.55 2103.46 L808.37 2103.46 L810.19 2103.46 L812.01 2103.46 L813.83 2103.46 L815.65 2103.46 L817.47 2103.46 L819.28 2103.46 L821.1 2103.46 L822.92 2103.46 L824.74 2103.46 L826.56 2103.46 L828.38 2103.46 L830.2 2103.46 L832.02 2103.46 L833.84 2103.46 L835.66 2103.46 L837.48 2103.46 L839.29 2103.46 L841.11 2103.46 L842.93 2103.46 L844.75 2103.46 L846.57 2103.46 L848.39 2103.46 L850.21 2103.46 L852.03 2103.46 L853.85 2103.46 L855.66 2103.46 L857.48 2103.46 L859.3 2103.46 L861.12 2103.46 L862.94 2103.46 L864.76 2103.46 L866.58 2103.46 L868.4 2103.46 L870.22 2103.46 L872.04 2103.46 L873.86 2103.46 L875.67 2103.46 L877.49 2103.46 L879.31 2103.46 L881.13 2103.46 L882.95 2103.46 L884.77 2103.46 L886.59 2103.46 L888.41 2103.46 L890.23 2103.46 L892.05 2103.46 L893.86 2103.46 L895.68 2103.46 L897.5 2103.46 L899.32 2103.46 L901.14 2103.46 L902.96 2103.46 L904.78 2103.46 L906.6 2103.46 L908.42 2103.46 L910.24 2103.46 L912.05 2103.46 L913.87 2103.46 L915.69 2103.46 L917.51 2103.46 L919.33 2103.46 L921.15 2103.46 L922.97 2103.46 L924.79 2103.46 L926.61 2103.46 L928.42 2103.46 L930.24 2103.46 L932.06 2103.46 L933.88 2103.46 L935.7 2103.46 L937.52 2103.46 L939.34 2103.46 L941.16 2103.46 L942.98 2103.46 L944.8 2103.46 L946.62 2103.46 L948.43 2103.46 L950.25 2103.46 L952.07 2103.46 L953.89 2103.46 L955.71 2103.46 L957.53 2103.46 L959.35 2103.46 L961.17 2103.46 L962.99 2103.46 L964.81 2103.46 L966.62 2103.46 L968.44 2103.46 L970.26 2103.46 L972.08 2103.46 L973.9 2103.46 L975.72 2103.46 L977.54 2103.46 L979.36 2103.46 L981.18 2103.46 L983 2103.46 L984.81 2103.46 L986.63 2103.46 L988.45 2103.46 L990.27 2103.46 L992.09 2103.46 L993.91 2103.46 L995.73 2103.46 L997.55 2103.46 L999.37 2103.46 L1001.18 2103.46 L1003 2103.46 L1004.82 2103.46 L1006.64 2103.46 L1008.46 2103.46 L1010.28 2103.46 L1012.1 2103.46 L1013.92 2103.46 L1015.74 2103.46 L1017.56 2103.46 L1019.38 2103.46 L1021.19 2103.46 L1023.01 2103.46 L1024.83 2103.46 L1026.65 2103.46 L1028.47 2103.46 L1030.29 2103.46 L1032.11 2103.46 L1033.93 2103.46 L1035.75 2103.46 L1037.57 2103.46 L1039.38 2103.46 L1041.2 2103.46 L1043.02 2103.46 L1044.84 2103.46 L1046.66 2103.46 L1048.48 2103.46 L1050.3 2103.46 L1052.12 2103.46 L1053.94 2103.46 L1055.75 2103.46 L1057.57 2103.46 L1059.39 2103.46 L1061.21 2103.46 L1063.03 2103.46 L1064.85 2103.46 L1066.67 2103.46 L1068.49 2103.46 L1070.31 2103.46 L1072.13 2103.46 L1073.94 2103.46 L1075.76 2103.46 L1077.58 2103.46 L1079.4 2103.46 L1081.22 2103.46 L1083.04 2103.46 L1084.86 2103.46 L1086.68 2103.46 L1088.5 2103.46 L1090.32 2103.46 L1092.13 2103.46 L1093.95 2103.46 L1095.77 2103.46 L1097.59 2103.46 L1099.41 2103.46 L1101.23 2103.46 L1103.05 2103.46 L1104.87 2103.46 L1106.69 2103.46 L1108.51 2103.46 L1110.32 2103.46 L1112.14 2103.46 L1113.96 2103.46 L1115.78 2103.46 L1117.6 2103.46 L1119.42 2103.46 L1121.24 2103.46 L1123.06 2103.46 L1124.88 2103.46 L1126.7 2103.46 L1128.51 2103.46 L1130.33 2103.46 L1132.15 2103.46 L1133.97 2103.46 L1135.79 2103.46 L1137.61 2103.46 L1139.43 2103.46 L1141.25 2103.46 L1143.07 2103.46 L1144.89 2103.46 L1146.7 2103.46 L1148.52 2103.46 L1150.34 2103.46 L1152.16 2103.46 L1153.98 2103.46 L1155.8 2103.46" fill="none" stroke="#000" stroke-width="5.4" stroke-linejoin="round" stroke-linecap="round"/>
<path d="M610.1 2104.5 V2146.34 M601.6 2104.5 H618.6 M601.6 2146.34 H618.6" fill="none" stroke="#1b733a" stroke-width="1.9"/>
<path d="M662.98 2163.6 V2197.6 M654.48 2163.6 H671.48 M654.48 2197.6 H671.48" fill="none" stroke="#1b733a" stroke-width="1.9"/>
<path d="M704.05 2176.15 V2225.84 M695.55 2176.15 H712.55 M695.55 2225.84 H712.55" fill="none" stroke="#1b733a" stroke-width="1.9"/>
<path d="M745.12 2276.05 V2302.2 M736.62 2276.05 H753.62 M736.62 2302.2 H753.62" fill="none" stroke="#1b733a" stroke-width="1.9"/>
<path d="M610.1 2116.22 L618.7 2132.02 L601.5 2132.02Z" fill="#1b733a"/>
<path d="M662.98 2171.4 L671.58 2187.2 L654.38 2187.2Z" fill="#1b733a"/>
<path d="M704.05 2191.8 L712.65 2207.6 L695.45 2207.6Z" fill="#1b733a"/>
<path d="M745.12 2279.92 L753.72 2295.72 L736.52 2295.72Z" fill="#1b733a"/>
<path d="M662.98 2042.53 V2081.23 M654.48 2042.53 H671.48 M654.48 2081.23 H671.48" fill="none" stroke="#0f5794" stroke-width="1.9"/>
<path d="M704.05 2077.83 V2103.98 M695.55 2077.83 H712.55 M695.55 2103.98 H712.55" fill="none" stroke="#0f5794" stroke-width="1.9"/>
<path d="M745.12 2144.25 V2169.35 M736.62 2144.25 H753.62 M736.62 2169.35 H753.62" fill="none" stroke="#0f5794" stroke-width="1.9"/>
<path d="M610.1 2109.5 L618.7 2118.1 L610.1 2126.7 L601.5 2118.1Z" fill="#0f5794"/>
<path d="M662.98 2053.28 L671.58 2061.88 L662.98 2070.48 L654.38 2061.88Z" fill="#0f5794"/>
<path d="M704.05 2082.3 L712.65 2090.9 L704.05 2099.5 L695.45 2090.9Z" fill="#0f5794"/>
<path d="M745.12 2148.2 L753.72 2156.8 L745.12 2165.4 L736.52 2156.8Z" fill="#0f5794"/>
<path d="M786.19 2247.05 L794.79 2255.65 L786.19 2264.25 L777.59 2255.65Z" fill="#0f5794"/>
<path d="M827.26 2312.95 L835.86 2321.55 L827.26 2330.15 L818.66 2321.55Z" fill="#0f5794"/>
<path d="M868.32 2342.5 L876.92 2351.1 L868.32 2359.7 L859.72 2351.1Z" fill="#0f5794"/>
<path d="M909.39 2354 L917.99 2362.6 L909.39 2371.2 L900.79 2362.6Z" fill="#0f5794"/>
<path d="M950.46 2352.7 L959.06 2361.3 L950.46 2369.89 L941.86 2361.3Z" fill="#0f5794"/>
<path d="M991.53 2346.42 L1000.13 2355.02 L991.53 2363.62 L982.93 2355.02Z" fill="#0f5794"/>
<path d="M1032.6 2339.1 L1041.2 2347.7 L1032.6 2356.3 L1024 2347.7Z" fill="#0f5794"/>
<path d="M1073.66 2345.37 L1082.26 2353.97 L1073.66 2362.57 L1065.06 2353.97Z" fill="#0f5794"/>
<path d="M1114.73 2351.91 L1123.33 2360.51 L1114.73 2369.11 L1106.13 2360.51Z" fill="#0f5794"/>
<path d="M1155.8 2353.22 L1164.4 2361.82 L1155.8 2370.42 L1147.2 2361.82Z" fill="#0f5794"/>
<path d="M610.1 2106.33 V2129.87 M601.6 2106.33 H618.6 M601.6 2129.87 H618.6" fill="none" stroke="#de5c27" stroke-width="1.9"/>
<path d="M662.98 2065.02 V2119.41 M654.48 2065.02 H671.48 M654.48 2119.41 H671.48" fill="none" stroke="#de5c27" stroke-width="1.9"/>
<path d="M704.05 2086.2 V2112.35 M695.55 2086.2 H712.55 M695.55 2112.35 H712.55" fill="none" stroke="#de5c27" stroke-width="1.9"/>
<path d="M745.12 2218.52 V2235.78 M736.62 2218.52 H753.62 M736.62 2235.78 H753.62" fill="none" stroke="#de5c27" stroke-width="1.9"/>
<rect x="604" y="2112" width="12.2" height="12.2" fill="#de5c27"/>
<rect x="656.88" y="2086.11" width="12.2" height="12.2" fill="#de5c27"/>
<rect x="697.95" y="2093.17" width="12.2" height="12.2" fill="#de5c27"/>
<rect x="739.02" y="2221.05" width="12.2" height="12.2" fill="#de5c27"/>
<rect x="780.09" y="2324.34" width="12.2" height="12.2" fill="#de5c27"/>
<rect x="821.16" y="2366.96" width="12.2" height="12.2" fill="#de5c27"/>
<rect x="862.22" y="2372.98" width="12.2" height="12.2" fill="#de5c27"/>
<rect x="985.43" y="2372.19" width="12.2" height="12.2" fill="#de5c27"/>
<rect x="1026.5" y="2366.96" width="12.2" height="12.2" fill="#de5c27"/>
<rect x="1108.63" y="2372.45" width="12.2" height="12.2" fill="#de5c27"/>
<rect x="1149.7" y="2365.39" width="12.2" height="12.2" fill="#de5c27"/>
<path d="M704.05 2077.83 V2095.61 M695.55 2077.83 H712.55 M695.55 2095.61 H712.55" fill="none" stroke="#000" stroke-width="1.9"/>
<path d="M786.19 2092.47 V2119.67 M777.69 2092.47 H794.69 M777.69 2119.67 H794.69" fill="none" stroke="#000" stroke-width="1.9"/>
<path d="M827.26 2093 V2112.35 M818.76 2093 H835.76 M818.76 2112.35 H835.76" fill="none" stroke="#000" stroke-width="1.9"/>
<path d="M909.39 2112.35 V2129.08 M900.89 2112.35 H917.89 M900.89 2129.08 H917.89" fill="none" stroke="#000" stroke-width="1.9"/>
<path d="M1073.66 2101.89 V2118.62 M1065.16 2101.89 H1082.16 M1065.16 2118.62 H1082.16" fill="none" stroke="#000" stroke-width="1.9"/>
<path d="M1114.73 2102.93 V2125.42 M1106.23 2102.93 H1123.23 M1106.23 2125.42 H1123.23" fill="none" stroke="#000" stroke-width="1.9"/>
<path d="M1155.8 2063.45 V2091.69 M1147.3 2063.45 H1164.3 M1147.3 2091.69 H1164.3" fill="none" stroke="#000" stroke-width="1.9"/>
<circle cx="610.1" cy="2118.62" r="7.5" fill="#000"/>
<circle cx="662.98" cy="2073.38" r="7.5" fill="#000"/>
<circle cx="704.05" cy="2086.72" r="7.5" fill="#000"/>
<circle cx="745.12" cy="2097.96" r="7.5" fill="#000"/>
<circle cx="786.19" cy="2106.07" r="7.5" fill="#000"/>
<circle cx="827.26" cy="2102.67" r="7.5" fill="#000"/>
<circle cx="868.32" cy="2096.4" r="7.5" fill="#000"/>
<circle cx="909.39" cy="2120.71" r="7.5" fill="#000"/>
<circle cx="950.46" cy="2121.24" r="7.5" fill="#000"/>
<circle cx="991.53" cy="2109.99" r="7.5" fill="#000"/>
<circle cx="1032.6" cy="2079.92" r="7.5" fill="#000"/>
<circle cx="1073.66" cy="2110.26" r="7.5" fill="#000"/>
<circle cx="1114.73" cy="2114.18" r="7.5" fill="#000"/>
<circle cx="1155.8" cy="2077.57" r="7.5" fill="#000"/>
<line x1="1175.5" y1="2173.2" x2="1213" y2="2173.2" stroke="#000" stroke-width="5" stroke-linecap="round"/>
<circle cx="1194.2" cy="2173.2" r="8.25" fill="#000"/>
<text x="1233" y="2185.2" font-size="27.3">ERBB2<tspan font-size="19.3" dy="-10.4">WT</tspan><tspan dy="10.4"> + IL-3</tspan></text>
<line x1="1175.5" y1="2204.8" x2="1213" y2="2204.8" stroke="#de5c27" stroke-width="5" stroke-linecap="round"/>
<rect x="1187.49" y="2198.09" width="13.42" height="13.42" fill="#de5c27"/>
<text x="1233" y="2220.2" font-size="27.3">ERBB2<tspan font-size="19.3" dy="-10.4">R188C</tspan></text>
<line x1="1175.5" y1="2236.3" x2="1213" y2="2236.3" stroke="#0f5794" stroke-width="5" stroke-linecap="round"/>
<path d="M1194.2 2225.98 L1204.52 2236.3 L1194.2 2246.62 L1183.88 2236.3Z" fill="#0f5794"/>
<text x="1233" y="2252.4" font-size="27.3">ERBB2<tspan font-size="19.3" dy="-10.4">P489L</tspan></text>
<line x1="1175.5" y1="2274.5" x2="1213" y2="2274.5" stroke="#1b733a" stroke-width="5" stroke-linecap="round"/>
<path d="M1194.2 2264.96 L1204.52 2283.92 L1183.88 2283.92Z" fill="#1b733a"/>
<text x="1233" y="2286.4" font-size="27.3">ERBB2<tspan font-size="19.3" dy="-10.4">L1157R</tspan></text>
</svg></body></html>
